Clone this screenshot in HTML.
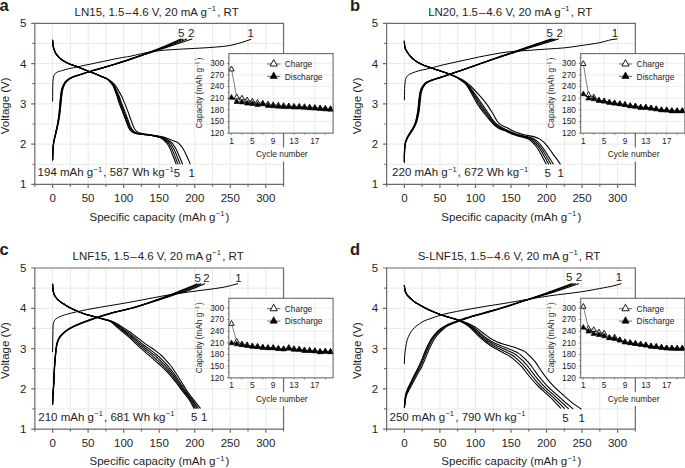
<!DOCTYPE html>
<html><head><meta charset="utf-8"><style>
html,body{margin:0;padding:0;background:#fff;overflow:hidden}
svg{display:block}
text{font-family:"Liberation Sans", sans-serif;fill:#1e1e1e}
</style></head><body>
<svg width="685" height="468" viewBox="0 0 685 468">
<rect width="685" height="468" fill="#fff"/>
<g transform="translate(0,0)"><path d="M52.6,23.3V184.4M70.37,23.3V184.4M88.13,23.3V184.4M105.9,23.3V184.4M123.66,23.3V184.4M141.43,23.3V184.4M159.19,23.3V184.4M176.96,23.3V184.4M194.72,23.3V184.4M212.48,23.3V184.4M230.25,23.3V184.4M248.01,23.3V184.4M265.78,23.3V184.4M34.84,164.26H283.55M34.84,144.12H283.55M34.84,123.99H283.55M34.84,103.85H283.55M34.84,83.71H283.55M34.84,63.58H283.55M34.84,43.44H283.55" stroke="#e9e9e9" stroke-width="1" fill="none"/>
<path d="M52.6,101.03C52.64,97.94 52.66,94.75 52.71,91.77C52.75,88.99 52.75,86.06 52.85,83.71C52.92,81.9 52.96,80.32 53.17,78.88C53.34,77.69 53.48,76.62 53.88,75.66C54.26,74.76 54.74,73.9 55.44,73.24C56.19,72.54 57.29,72.03 58.28,71.63C59.28,71.23 60.23,71.15 61.41,70.82C62.97,70.39 64.77,69.74 66.81,69.21C69.44,68.53 72.25,67.99 75.91,67.2C81.44,66 89.65,64.27 96.8,62.77C104.32,61.19 113.83,59.07 119.96,57.94C123.98,57.19 126.55,56.99 129.98,56.33C133.68,55.61 137.81,54.48 141.43,53.71C144.66,53.02 147.5,52.42 150.66,51.9C153.96,51.34 156.97,50.89 160.82,50.49C165.86,49.96 172.17,49.66 178.31,49.28C185.12,48.86 193.23,48.51 199.91,48.11C205.68,47.77 210.84,47.53 216.04,47.06C220.93,46.63 225.74,46.3 230.25,45.45C234.47,44.65 238.69,43.33 242.33,42.23C245.4,41.31 247.92,40.35 250.72,39.41" stroke="#000" stroke-width="1.0" fill="none" stroke-linejoin="round" stroke-linecap="round"/>
<path d="M52.6,159.83C52.72,156.61 52.75,153.11 52.96,150.17C53.13,147.68 53.33,145.39 53.67,143.32C53.95,141.56 54.33,140.21 54.73,138.49C55.19,136.49 55.76,134.31 56.3,132.04C56.89,129.51 57.58,126.74 58.14,123.99C58.73,121.11 59.25,118.27 59.71,115.13C60.22,111.6 60.62,107.29 60.99,103.85C61.29,100.94 61.46,98.28 61.77,95.8C62.04,93.63 62.27,91.55 62.69,89.75C63.04,88.26 63.4,87 63.97,85.73C64.54,84.45 65.28,83.14 66.1,82.1C66.84,81.16 67.67,80.41 68.59,79.69C69.55,78.93 70.4,78.34 71.79,77.67C74.02,76.59 77.85,75.5 81.02,74.45C84.36,73.35 88.3,72.13 91.33,71.23C93.71,70.52 95.04,70.19 97.72,69.41C102.29,68.1 110.38,65.78 116.2,63.98C121.45,62.36 126.28,60.76 131.12,59.14C135.74,57.6 140.35,55.95 144.62,54.51C148.48,53.22 151.99,52.07 155.64,50.89C159.22,49.72 162.64,48.66 166.3,47.47C170.2,46.19 174.24,44.81 178.38,43.44C182.75,41.99 187.38,40.48 191.88,39.01" stroke="#000" stroke-width="1.15" fill="none" stroke-linejoin="round" stroke-linecap="round"/>
<path d="M52.6,159.8L52.6,159.0L52.7,158.1L52.7,157.2L52.7,156.3L52.7,155.5L52.7,154.6L52.8,153.7L52.8,152.9L52.8,152.0L52.9,151.1L52.9,150.2L53.0,149.4L53.0,148.5L53.1,147.6L53.2,146.8L53.3,145.9L53.3,145.0L53.5,144.2L53.6,143.3L53.7,142.4L53.9,141.6L54.1,140.7L54.3,139.9L54.4,139.0L54.6,138.2L54.8,137.3L55.0,136.5L55.2,135.6L55.4,134.8L55.6,133.9L55.8,133.1L56.0,132.2L56.2,131.4L56.4,130.5L56.6,129.7L56.8,128.8L57.0,128.0L57.2,127.1L57.4,126.3L57.6,125.4L57.7,124.6L57.9,123.7L58.1,122.9L58.2,122.0L58.4,121.2L58.5,120.3L58.7,119.4L58.8,118.6L58.9,117.7L59.1,116.9L59.2,116.0L59.3,115.1L59.4,114.3L59.5,113.4L59.6,112.5L59.7,111.7L59.8,110.8L59.9,109.9L60.0,109.1L60.1,108.2L60.1,107.3L60.2,106.5L60.3,105.6L60.4,104.7L60.5,103.9L60.5,103.0L60.6,102.1L60.7,101.3L60.8,100.4L60.9,99.5L60.9,98.7L61.0,97.8L61.1,96.9L61.2,96.1L61.3,95.2L61.4,94.3L61.5,93.5L61.7,92.6L61.8,91.7L62.0,90.9L62.1,90.0L62.3,89.2L62.6,88.3L62.8,87.5L63.1,86.7L63.5,85.9L63.8,85.1L64.3,84.3L64.7,83.6L65.2,82.9L65.7,82.2L66.3,81.5L66.9,80.9L67.5,80.3L68.2,79.8L68.8,79.2L69.6,78.8L70.3,78.3L71.1,77.9L71.9,77.5L72.7,77.2L73.5,76.8L74.3,76.5L75.1,76.3L75.9,76.0L76.8,75.7L77.6,75.4L78.4,75.2L79.2,74.9L80.1,74.6L80.9,74.4L81.7,74.1L82.6,73.8L83.4,73.6L84.2,73.3L85.1,73.0L85.9,72.8L86.7,72.5L87.5,72.3L88.4,72.0L89.2,71.7L90.1,71.5L90.9,71.3L91.7,71.0L92.6,70.8L93.4,70.5L94.2,70.3L95.1,70.0L95.9,69.8L96.7,69.6L97.6,69.3L98.4,69.1L99.3,68.8L100.1,68.6L100.9,68.3L101.8,68.1L102.6,67.9L103.4,67.6L104.3,67.4L105.1,67.1L106.0,66.9L106.8,66.6L107.6,66.4L108.5,66.1L109.3,65.9L110.1,65.7L111.0,65.4L111.8,65.2L112.6,64.9L113.5,64.6L114.3,64.4L115.1,64.1L116.0,63.9L116.8,63.6L117.6,63.4L118.5,63.1L119.3,62.8L120.1,62.6L121.0,62.3L121.8,62.0L122.6,61.8L123.5,61.5L124.3,61.2L125.1,61.0L125.9,60.7L126.8,60.4L127.6,60.1L128.4,59.9L129.3,59.6L130.1,59.3L130.9,59.0L131.7,58.8L132.6,58.5L133.4,58.2L134.2,57.9L135.0,57.6L135.9,57.3L136.7,57.1L137.5,56.8L138.3,56.5L139.2,56.2L140.0,55.9L140.8,55.7L141.6,55.4L142.5,55.1L143.3,54.8L144.1,54.5L144.9,54.2L145.8,54.0L146.6,53.7L147.4,53.4L148.2,53.1L149.1,52.8L149.9,52.6L150.7,52.3L151.5,52.0L152.3,51.7L153.2,51.4L154.0,51.1L154.8,50.9L155.6,50.6L156.5,50.3L157.3,50.0L158.1,49.7L158.9,49.4L159.8,49.1L160.6,48.8L161.4,48.5L162.2,48.3L163.0,48.0L163.9,47.7L164.7,47.4L165.5,47.1L166.3,46.7L167.1,46.4L167.9,46.1L168.8,45.8L169.6,45.5L170.4,45.2L171.2,44.9L172.0,44.6L172.8,44.3L173.7,44.0L174.5,43.7L175.3,43.4L176.1,43.1L176.9,42.8L177.7,42.5L178.6,42.2L179.4,41.9L180.2,41.6L181.0,41.3L181.8,41.0L182.6,40.6L183.4,40.3L184.2,40.0L185.0,39.7L185.8,39.3L186.6,39.0" stroke="#000" stroke-width="1.15" fill="none" stroke-linejoin="round" stroke-linecap="round"/>
<path d="M52.6,159.8L52.6,159.0L52.6,158.1L52.7,157.3L52.7,156.4L52.7,155.5L52.7,154.7L52.8,153.8L52.8,153.0L52.8,152.1L52.8,151.2L52.9,150.4L52.9,149.5L53.0,148.7L53.1,147.8L53.1,147.0L53.2,146.1L53.3,145.3L53.4,144.4L53.5,143.6L53.6,142.7L53.7,141.9L53.9,141.0L54.1,140.2L54.3,139.3L54.5,138.5L54.6,137.7L54.8,136.8L55.0,136.0L55.2,135.1L55.4,134.3L55.6,133.5L55.8,132.6L56.0,131.8L56.2,131.0L56.3,130.1L56.5,129.3L56.7,128.4L56.9,127.6L57.1,126.8L57.3,125.9L57.4,125.1L57.6,124.2L57.8,123.4L57.9,122.6L58.1,121.7L58.2,120.9L58.3,120.0L58.5,119.2L58.6,118.3L58.7,117.5L58.9,116.6L59.0,115.8L59.1,114.9L59.2,114.1L59.3,113.2L59.4,112.4L59.4,111.5L59.5,110.6L59.6,109.8L59.7,108.9L59.7,108.1L59.8,107.2L59.9,106.4L60.0,105.5L60.0,104.7L60.1,103.8L60.2,102.9L60.3,102.1L60.3,101.2L60.4,100.4L60.5,99.5L60.6,98.7L60.7,97.8L60.7,97.0L60.8,96.1L60.9,95.3L61.1,94.4L61.2,93.6L61.3,92.7L61.4,91.9L61.6,91.0L61.7,90.2L61.9,89.3L62.2,88.5L62.4,87.7L62.7,86.9L63.0,86.1L63.4,85.3L63.8,84.6L64.2,83.8L64.7,83.1L65.2,82.4L65.7,81.7L66.3,81.1L66.9,80.5L67.5,79.9L68.2,79.4L68.9,78.9L69.6,78.5L70.4,78.1L71.1,77.7L71.9,77.3L72.7,77.0L73.5,76.7L74.3,76.4L75.1,76.1L76.0,75.9L76.8,75.6L77.6,75.3L78.4,75.1L79.2,74.8L80.0,74.5L80.9,74.3L81.7,74.0L82.5,73.8L83.3,73.5L84.1,73.2L85.0,73.0L85.8,72.7L86.6,72.5L87.4,72.2L88.2,72.0L89.1,71.7L89.9,71.5L90.7,71.2L91.5,71.0L92.3,70.7L93.2,70.5L94.0,70.2L94.8,70.0L95.6,69.8L96.5,69.5L97.3,69.3L98.1,69.1L98.9,68.8L99.8,68.6L100.6,68.3L101.4,68.1L102.2,67.9L103.1,67.6L103.9,67.4L104.7,67.1L105.5,66.9L106.4,66.7L107.2,66.4L108.0,66.2L108.8,65.9L109.7,65.7L110.5,65.5L111.3,65.2L112.1,65.0L112.9,64.7L113.8,64.5L114.6,64.2L115.4,64.0L116.2,63.7L117.1,63.4L117.9,63.2L118.7,62.9L119.5,62.7L120.3,62.4L121.1,62.1L122.0,61.9L122.8,61.6L123.6,61.3L124.4,61.1L125.2,60.8L126.0,60.5L126.9,60.3L127.7,60.0L128.5,59.7L129.3,59.5L130.1,59.2L130.9,58.9L131.7,58.6L132.5,58.4L133.4,58.1L134.2,57.8L135.0,57.5L135.8,57.2L136.6,57.0L137.4,56.7L138.2,56.4L139.0,56.1L139.9,55.9L140.7,55.6L141.5,55.3L142.3,55.0L143.1,54.7L143.9,54.4L144.7,54.2L145.5,53.9L146.3,53.6L147.2,53.3L148.0,53.0L148.8,52.7L149.6,52.4L150.4,52.1L151.2,51.8L152.0,51.6L152.8,51.3L153.6,51.0L154.4,50.7L155.2,50.4L156.0,50.1L156.8,49.8L157.6,49.5L158.4,49.2L159.2,48.9L160.0,48.5L160.8,48.2L161.6,47.9L162.4,47.6L163.2,47.3L164.0,47.0L164.8,46.6L165.6,46.3L166.4,46.0L167.2,45.7L168.0,45.4L168.8,45.0L169.6,44.7L170.4,44.4L171.2,44.1L172.0,43.8L172.8,43.5L173.6,43.1L174.4,42.8L175.2,42.5L176.0,42.2L176.8,41.8L177.6,41.5L178.3,41.2L179.1,40.8L179.9,40.4L180.7,40.1L181.5,39.7L182.2,39.4L183.0,39.0" stroke="#000" stroke-width="1.15" fill="none" stroke-linejoin="round" stroke-linecap="round"/>
<path d="M52.6,159.83C52.69,156.61 52.72,153.11 52.88,150.17C53.02,147.69 53.17,145.4 53.45,143.32C53.69,141.56 54.02,140.21 54.38,138.49C54.79,136.49 55.31,134.31 55.8,132.04C56.35,129.51 57,126.74 57.5,123.99C58.03,121.11 58.48,118.26 58.85,115.13C59.28,111.6 59.53,107.29 59.85,103.85C60.12,100.94 60.32,98.28 60.63,95.8C60.9,93.63 61.12,91.55 61.55,89.75C61.92,88.26 62.32,87 62.9,85.73C63.48,84.45 64.22,83.14 65.04,82.1C65.78,81.16 66.59,80.41 67.52,79.69C68.5,78.92 69.37,78.34 70.79,77.67C73.07,76.59 76.97,75.5 80.17,74.45C83.5,73.35 87.41,72.13 90.4,71.23C92.74,70.52 94.02,70.18 96.66,69.41C101.19,68.09 109.32,65.78 115.13,63.98C120.37,62.36 125.17,60.76 129.98,59.14C134.56,57.61 138.99,56.09 143.34,54.51C147.54,53 151.7,51.44 155.64,49.88C159.33,48.42 162.94,46.86 166.3,45.45C169.3,44.19 172.28,42.99 174.82,41.83C176.93,40.86 178.61,39.95 180.51,39.01" stroke="#000" stroke-width="1.15" fill="none" stroke-linejoin="round" stroke-linecap="round"/>
<path d="M52.6,40.22C52.67,41.42 52.68,42.71 52.81,43.84C52.93,44.84 53.08,45.67 53.31,46.66C53.58,47.8 53.91,49.1 54.38,50.28C54.85,51.51 55.43,52.78 56.15,53.91C56.89,55.06 57.86,56.17 58.78,57.13C59.64,58.03 60.52,58.81 61.48,59.55C62.46,60.29 63.42,60.9 64.61,61.56C66.07,62.38 67.95,63.27 69.65,63.98C71.34,64.68 72.9,65.09 74.77,65.79C77.08,66.65 79.95,67.82 82.45,68.81C84.83,69.76 87.2,70.79 89.41,71.63C91.37,72.38 93.04,72.85 95.02,73.64C97.32,74.56 100.17,76.01 102.34,76.87C104.04,77.54 105.54,77.73 106.96,78.48C108.38,79.21 109.69,80.37 110.87,81.3C111.91,82.11 112.9,82.91 113.71,83.71C114.4,84.39 114.85,84.86 115.49,85.73C116.45,87.03 117.68,89.24 118.69,90.96C119.64,92.6 120.51,94.02 121.39,95.8C122.41,97.86 123.36,100.23 124.37,102.64C125.49,105.3 126.68,108.21 127.78,111.1C128.93,114.11 130,117.39 131.12,120.36C132.18,123.15 133.09,126.41 134.32,128.42C135.19,129.83 136.13,130.85 137.16,131.64C138.05,132.32 138.98,132.69 140,133.05C141.1,133.44 142.07,133.58 143.56,133.85C146.04,134.31 150.32,134.75 153.58,135.26C156.7,135.76 160.17,136.24 162.74,136.88C164.67,137.35 166.2,137.91 167.72,138.49C169.05,138.99 170.2,139.62 171.41,140.1C172.56,140.55 173.7,140.84 174.82,141.31C175.97,141.78 177.27,142.21 178.23,142.92C179.14,143.58 179.79,144.52 180.51,145.33C181.21,146.13 181.77,146.65 182.5,147.75C183.76,149.67 185.52,153.44 186.83,156.21C188.06,158.8 189.06,161.31 190.17,163.86" stroke="#000" stroke-width="1.1" fill="none" stroke-linejoin="round" stroke-linecap="round"/>
<path d="M52.6,40.2L52.6,41.0L52.7,41.9L52.7,42.7L52.8,43.5L52.9,44.3L53.0,45.1L53.1,45.9L53.3,46.7L53.5,47.5L53.7,48.3L54.0,49.1L54.2,49.9L54.5,50.6L54.8,51.4L55.2,52.1L55.5,52.9L55.9,53.6L56.4,54.3L56.9,54.9L57.4,55.6L57.9,56.2L58.5,56.8L59.0,57.4L59.6,58.0L60.2,58.5L60.8,59.0L61.5,59.5L62.2,60.0L62.8,60.5L63.5,60.9L64.2,61.3L64.9,61.7L65.7,62.1L66.4,62.5L67.1,62.8L67.9,63.2L68.6,63.5L69.4,63.9L70.1,64.2L70.9,64.4L71.7,64.7L72.5,65.0L73.2,65.3L74.0,65.5L74.8,65.8L75.5,66.1L76.3,66.4L77.1,66.7L77.8,67.0L78.6,67.3L79.4,67.6L80.1,67.9L80.9,68.2L81.6,68.5L82.4,68.8L83.2,69.1L83.9,69.4L84.7,69.7L85.4,70.0L86.2,70.3L86.9,70.6L87.7,71.0L88.5,71.3L89.2,71.5L90.0,71.8L90.8,72.1L91.5,72.4L92.3,72.7L93.1,72.9L93.9,73.2L94.6,73.5L95.4,73.8L96.1,74.1L96.9,74.5L97.6,74.8L98.4,75.1L99.1,75.4L99.9,75.8L100.6,76.1L101.4,76.4L102.2,76.7L102.9,77.0L103.7,77.3L104.4,77.6L105.2,77.9L105.9,78.3L106.7,78.6L107.4,79.0L108.1,79.5L108.7,80.0L109.3,80.5L110.0,81.0L110.5,81.6L111.1,82.2L111.7,82.7L112.3,83.3L112.8,84.0L113.3,84.6L113.8,85.2L114.3,85.9L114.7,86.6L115.1,87.3L115.5,88.1L115.8,88.8L116.2,89.6L116.5,90.3L116.9,91.0L117.2,91.8L117.5,92.5L117.9,93.2L118.2,94.0L118.5,94.7L118.9,95.5L119.2,96.3L119.5,97.0L119.7,97.8L120.0,98.6L120.3,99.3L120.5,100.1L120.8,100.9L121.1,101.7L121.4,102.4L121.6,103.2L121.9,104.0L122.2,104.7L122.5,105.5L122.8,106.2L123.1,107.0L123.4,107.8L123.7,108.5L124.0,109.3L124.3,110.1L124.6,110.8L124.9,111.6L125.2,112.4L125.5,113.1L125.8,113.9L126.0,114.7L126.3,115.4L126.6,116.2L126.9,117.0L127.2,117.7L127.5,118.5L127.8,119.3L128.1,120.0L128.3,120.8L128.6,121.6L128.9,122.3L129.2,123.1L129.5,123.9L129.7,124.6L130.0,125.4L130.4,126.2L130.7,126.9L131.1,127.6L131.5,128.3L131.9,129.0L132.4,129.7L132.9,130.3L133.5,130.9L134.1,131.4L134.7,131.8L135.4,132.3L136.1,132.6L136.9,132.9L137.7,133.2L138.5,133.4L139.3,133.6L140.1,133.8L140.9,133.9L141.7,134.0L142.5,134.2L143.3,134.3L144.1,134.4L144.9,134.5L145.7,134.6L146.5,134.7L147.4,134.8L148.2,134.9L149.0,135.0L149.8,135.1L150.6,135.2L151.4,135.3L152.2,135.4L153.0,135.5L153.9,135.6L154.7,135.8L155.5,135.9L156.3,136.1L157.1,136.2L157.9,136.4L158.7,136.6L159.5,136.8L160.3,137.0L161.0,137.2L161.8,137.5L162.6,137.7L163.4,138.0L164.1,138.3L164.9,138.6L165.6,138.9L166.4,139.3L167.1,139.7L167.8,140.1L168.5,140.5L169.1,141.0L169.8,141.4L170.5,141.8L171.2,142.3L171.8,142.8L172.4,143.4L172.9,144.0L173.3,144.7L173.8,145.4L174.3,146.0L174.7,146.7L175.2,147.4L175.6,148.1L175.9,148.8L176.3,149.6L176.7,150.3L177.0,151.0L177.4,151.8L177.7,152.5L178.0,153.3L178.4,154.0L178.7,154.8L179.0,155.5L179.3,156.3L179.6,157.0L180.0,157.8L180.3,158.5L180.6,159.3L180.9,160.1L181.2,160.8L181.5,161.6L181.8,162.3L182.1,163.1L182.4,163.9" stroke="#000" stroke-width="1.1" fill="none" stroke-linejoin="round" stroke-linecap="round"/>
<path d="M52.6,40.2L52.6,41.0L52.7,41.8L52.7,42.6L52.8,43.5L52.9,44.3L53.0,45.1L53.1,45.9L53.3,46.7L53.5,47.5L53.7,48.2L53.9,49.0L54.2,49.8L54.5,50.5L54.8,51.3L55.1,52.0L55.5,52.8L55.9,53.5L56.3,54.2L56.8,54.8L57.3,55.5L57.8,56.1L58.4,56.7L58.9,57.3L59.5,57.8L60.1,58.4L60.7,58.9L61.3,59.4L62.0,59.9L62.7,60.4L63.3,60.8L64.0,61.2L64.8,61.6L65.5,62.0L66.2,62.4L66.9,62.7L67.7,63.1L68.4,63.4L69.1,63.8L69.9,64.1L70.6,64.4L71.4,64.6L72.2,64.9L72.9,65.2L73.7,65.4L74.5,65.7L75.2,66.0L76.0,66.3L76.8,66.6L77.5,66.8L78.3,67.1L79.0,67.4L79.8,67.7L80.5,68.0L81.3,68.3L82.0,68.7L82.8,69.0L83.6,69.3L84.3,69.6L85.1,69.9L85.8,70.2L86.6,70.5L87.3,70.8L88.1,71.1L88.8,71.4L89.6,71.7L90.3,72.0L91.1,72.2L91.9,72.5L92.6,72.8L93.4,73.1L94.2,73.3L94.9,73.6L95.7,73.9L96.4,74.2L97.2,74.6L97.9,74.9L98.7,75.2L99.4,75.6L100.1,75.9L100.9,76.2L101.6,76.5L102.4,76.8L103.1,77.1L103.9,77.4L104.6,77.7L105.4,78.0L106.1,78.4L106.8,78.8L107.5,79.2L108.2,79.7L108.8,80.2L109.4,80.7L110.0,81.3L110.5,81.9L111.1,82.5L111.7,83.1L112.2,83.7L112.7,84.3L113.2,85.0L113.7,85.6L114.1,86.3L114.5,87.0L114.8,87.8L115.1,88.5L115.5,89.3L115.8,90.0L116.1,90.7L116.4,91.5L116.8,92.2L117.1,93.0L117.4,93.7L117.7,94.5L118.0,95.2L118.3,96.0L118.6,96.7L118.8,97.5L119.1,98.3L119.3,99.1L119.6,99.8L119.8,100.6L120.1,101.4L120.3,102.1L120.6,102.9L120.9,103.7L121.2,104.4L121.5,105.2L121.8,105.9L122.1,106.7L122.4,107.5L122.7,108.2L122.9,109.0L123.2,109.7L123.5,110.5L123.8,111.2L124.1,112.0L124.4,112.8L124.7,113.5L125.0,114.3L125.3,115.0L125.5,115.8L125.8,116.6L126.1,117.3L126.4,118.1L126.7,118.8L127.0,119.6L127.3,120.4L127.6,121.1L127.8,121.9L128.1,122.6L128.4,123.4L128.7,124.2L129.0,124.9L129.3,125.7L129.6,126.4L129.9,127.2L130.3,127.9L130.7,128.6L131.1,129.3L131.6,129.9L132.1,130.5L132.7,131.0L133.3,131.6L134.0,132.0L134.7,132.4L135.4,132.8L136.2,133.0L136.9,133.3L137.7,133.5L138.5,133.7L139.3,133.8L140.1,134.0L140.9,134.1L141.7,134.2L142.5,134.3L143.3,134.4L144.1,134.5L144.9,134.6L145.8,134.7L146.6,134.7L147.4,134.8L148.2,134.9L149.0,135.0L149.8,135.1L150.6,135.2L151.4,135.3L152.2,135.5L153.0,135.6L153.8,135.7L154.6,135.9L155.4,136.1L156.2,136.2L157.0,136.4L157.8,136.6L158.6,136.8L159.3,137.0L160.1,137.2L160.9,137.4L161.7,137.7L162.4,138.0L163.2,138.3L163.9,138.6L164.6,139.0L165.3,139.4L166.0,139.9L166.6,140.3L167.3,140.8L167.9,141.3L168.6,141.8L169.2,142.3L169.8,142.8L170.4,143.4L170.9,144.0L171.3,144.7L171.7,145.4L172.2,146.1L172.6,146.8L173.0,147.5L173.4,148.2L173.8,148.9L174.1,149.6L174.5,150.4L174.8,151.1L175.1,151.8L175.4,152.6L175.8,153.3L176.1,154.1L176.4,154.8L176.7,155.6L177.0,156.3L177.3,157.1L177.6,157.8L177.9,158.6L178.2,159.3L178.5,160.1L178.8,160.8L179.1,161.6L179.4,162.4L179.7,163.1L180.0,163.9" stroke="#000" stroke-width="1.1" fill="none" stroke-linejoin="round" stroke-linecap="round"/>
<path d="M52.6,40.2L52.6,41.0L52.7,41.8L52.7,42.6L52.8,43.4L52.9,44.2L53.0,45.0L53.1,45.8L53.3,46.6L53.5,47.4L53.7,48.2L53.9,49.0L54.2,49.7L54.5,50.5L54.8,51.2L55.1,52.0L55.4,52.7L55.8,53.4L56.3,54.1L56.7,54.7L57.2,55.4L57.7,56.0L58.3,56.6L58.8,57.2L59.4,57.7L60.0,58.3L60.6,58.8L61.2,59.3L61.9,59.8L62.5,60.3L63.2,60.7L63.9,61.1L64.6,61.5L65.3,61.9L66.0,62.3L66.7,62.7L67.5,63.0L68.2,63.3L68.9,63.7L69.7,64.0L70.4,64.3L71.2,64.6L71.9,64.8L72.7,65.1L73.5,65.3L74.2,65.6L75.0,65.9L75.7,66.2L76.5,66.4L77.2,66.7L78.0,67.0L78.7,67.3L79.5,67.6L80.2,67.9L81.0,68.2L81.7,68.5L82.5,68.8L83.2,69.1L84.0,69.4L84.7,69.7L85.5,70.0L86.2,70.4L87.0,70.7L87.7,71.0L88.5,71.3L89.2,71.5L90.0,71.8L90.7,72.1L91.5,72.4L92.2,72.6L93.0,72.9L93.8,73.2L94.5,73.5L95.3,73.8L96.0,74.1L96.8,74.4L97.5,74.7L98.2,75.0L99.0,75.4L99.7,75.7L100.4,76.0L101.2,76.3L101.9,76.6L102.7,77.0L103.4,77.3L104.2,77.6L104.9,77.9L105.6,78.2L106.4,78.5L107.1,78.9L107.7,79.4L108.3,79.9L108.9,80.5L109.5,81.1L110.0,81.6L110.6,82.2L111.1,82.8L111.7,83.4L112.2,84.1L112.7,84.7L113.1,85.4L113.5,86.1L113.9,86.8L114.2,87.5L114.5,88.2L114.8,89.0L115.1,89.7L115.4,90.5L115.7,91.2L116.0,92.0L116.4,92.7L116.6,93.5L116.9,94.2L117.2,95.0L117.5,95.7L117.8,96.5L118.0,97.3L118.2,98.0L118.5,98.8L118.7,99.6L118.9,100.3L119.2,101.1L119.4,101.9L119.7,102.6L120.0,103.4L120.2,104.2L120.5,104.9L120.8,105.7L121.1,106.4L121.4,107.2L121.7,107.9L122.0,108.7L122.3,109.4L122.6,110.2L122.9,110.9L123.2,111.7L123.5,112.4L123.7,113.2L124.0,113.9L124.3,114.7L124.6,115.4L124.9,116.2L125.2,117.0L125.5,117.7L125.7,118.5L126.0,119.2L126.3,120.0L126.6,120.7L126.9,121.5L127.2,122.2L127.4,123.0L127.7,123.7L128.0,124.5L128.3,125.3L128.6,126.0L128.9,126.7L129.2,127.5L129.6,128.2L130.0,128.9L130.5,129.5L131.0,130.2L131.5,130.7L132.1,131.3L132.7,131.8L133.4,132.2L134.1,132.6L134.8,132.9L135.6,133.2L136.4,133.4L137.1,133.6L137.9,133.8L138.7,133.9L139.5,134.0L140.3,134.1L141.1,134.2L141.9,134.3L142.7,134.4L143.5,134.5L144.3,134.6L145.1,134.6L145.9,134.7L146.7,134.8L147.5,134.9L148.3,135.0L149.1,135.1L149.9,135.2L150.7,135.3L151.5,135.5L152.3,135.6L153.1,135.7L153.9,135.9L154.7,136.1L155.5,136.2L156.3,136.4L157.1,136.6L157.8,136.8L158.6,137.0L159.4,137.2L160.2,137.4L160.9,137.7L161.7,138.0L162.4,138.3L163.1,138.7L163.8,139.2L164.4,139.7L165.0,140.2L165.6,140.7L166.3,141.2L166.9,141.7L167.5,142.2L168.1,142.8L168.6,143.4L169.1,144.0L169.5,144.7L169.9,145.4L170.3,146.1L170.7,146.8L171.1,147.5L171.5,148.2L171.8,148.9L172.2,149.7L172.5,150.4L172.8,151.1L173.1,151.9L173.5,152.6L173.8,153.4L174.1,154.1L174.4,154.9L174.7,155.6L175.0,156.4L175.3,157.1L175.6,157.9L175.9,158.6L176.2,159.4L176.5,160.1L176.8,160.9L177.0,161.6L177.3,162.4L177.6,163.1L177.9,163.9" stroke="#000" stroke-width="1.1" fill="none" stroke-linejoin="round" stroke-linecap="round"/>
<path d="M52.6,40.22C52.67,41.42 52.68,42.71 52.81,43.84C52.93,44.84 53.08,45.67 53.31,46.66C53.58,47.8 53.91,49.1 54.38,50.28C54.85,51.51 55.43,52.78 56.15,53.91C56.89,55.06 57.86,56.17 58.78,57.13C59.64,58.03 60.52,58.81 61.48,59.55C62.46,60.29 63.42,60.9 64.61,61.56C66.07,62.38 67.95,63.27 69.65,63.98C71.34,64.68 72.9,65.09 74.77,65.79C77.08,66.65 79.95,67.82 82.45,68.81C84.83,69.76 87.2,70.79 89.41,71.63C91.37,72.38 93.04,72.85 95.02,73.64C97.32,74.56 100.18,75.92 102.34,76.87C104.06,77.62 105.72,78.04 106.96,78.88C107.99,79.57 108.67,80.48 109.45,81.3C110.2,82.09 110.96,82.93 111.58,83.71C112.12,84.4 112.53,84.86 113,85.73C113.72,87.03 114.47,89.25 115.13,90.96C115.77,92.6 116.32,94.03 116.91,95.8C117.6,97.87 118.15,100.26 118.97,102.64C119.89,105.33 121.13,108.22 122.24,111.1C123.4,114.12 124.61,117.35 125.79,120.36C126.93,123.25 127.89,126.75 129.2,128.82C130.11,130.26 131.05,131.26 132.19,132.04C133.25,132.77 134.54,133.12 135.74,133.45C136.91,133.78 137.83,133.85 139.29,134.06C141.65,134.38 145.83,134.68 148.53,135.06C150.66,135.37 152.55,135.73 154.22,136.07C155.54,136.34 156.61,136.54 157.77,136.88C158.91,137.21 160.06,137.5 161.11,138.08C162.2,138.69 163.18,139.63 164.16,140.5C165.17,141.4 166.23,142.3 167.08,143.4C167.97,144.56 168.64,145.97 169.35,147.35C170.09,148.79 170.72,150.27 171.41,151.9C172.19,153.73 172.98,155.83 173.76,157.82C174.54,159.82 175.32,161.85 176.1,163.86" stroke="#000" stroke-width="1.1" fill="none" stroke-linejoin="round" stroke-linecap="round"/>
<path d="M34.84,23.3H283.55V184.4H34.84Z" stroke="#6b6b6b" stroke-width="1.2" fill="none"/>
<path d="M31.23,184.4H34.84M32.44,164.26H34.84M31.23,144.12H34.84M32.44,123.99H34.84M31.23,103.85H34.84M32.44,83.71H34.84M31.23,63.58H34.84M32.44,43.44H34.84M31.23,23.3H34.84M34.84,184.4V186.8M52.6,184.4V188M70.37,184.4V186.8M88.13,184.4V188M105.9,184.4V186.8M123.66,184.4V188M141.43,184.4V186.8M159.19,184.4V188M176.96,184.4V186.8M194.72,184.4V188M212.48,184.4V186.8M230.25,184.4V188M248.01,184.4V186.8M265.78,184.4V188M283.55,184.4V186.8" stroke="#6b6b6b" stroke-width="1.2" fill="none"/>
<text x="26.4" y="188.4" font-size="11.5" text-anchor="end">1</text>
<text x="26.4" y="148.12" font-size="11.5" text-anchor="end">2</text>
<text x="26.4" y="107.85" font-size="11.5" text-anchor="end">3</text>
<text x="26.4" y="67.58" font-size="11.5" text-anchor="end">4</text>
<text x="26.4" y="27.3" font-size="11.5" text-anchor="end">5</text>
<text x="52.6" y="201.9" font-size="11.5" text-anchor="middle">0</text>
<text x="88.13" y="201.9" font-size="11.5" text-anchor="middle">50</text>
<text x="123.66" y="201.9" font-size="11.5" text-anchor="middle">100</text>
<text x="159.19" y="201.9" font-size="11.5" text-anchor="middle">150</text>
<text x="194.72" y="201.9" font-size="11.5" text-anchor="middle">200</text>
<text x="230.25" y="201.9" font-size="11.5" text-anchor="middle">250</text>
<text x="265.78" y="201.9" font-size="11.5" text-anchor="middle">300</text>
<text x="159.5" y="220.7" font-size="11.5" text-anchor="middle"><tspan>Specific capacity (mAh g</tspan><tspan dy="-4.49" dx="0.3" font-size="7.59">−1</tspan><tspan dy="4.49" dx="1.2">)</tspan></text>
<text transform="translate(9.2,105.85) rotate(-90)" font-size="11.5" text-anchor="middle">Voltage (V)</text>
<text x="156.6" y="15.8" font-size="11.5" text-anchor="middle"><tspan>LN15, 1.5</tspan><tspan dx="0.9">–</tspan><tspan dx="0.9">4.6 V, 20 mA g</tspan><tspan dy="-4.49" dx="0.3" font-size="7.59">−1</tspan><tspan dy="4.49" dx="1.2">, RT</tspan></text>
<text x="-0.6" y="11.3" font-size="16.5" font-weight="bold">a</text>
<text x="37.6" y="176.3" font-size="11.5" text-anchor="start"><tspan>194 mAh g</tspan><tspan dy="-4.49" dx="0.3" font-size="7.59">−1</tspan><tspan dy="4.49" dx="1.2">, 587 Wh kg</tspan><tspan dy="-4.49" dx="0.3" font-size="7.59">−1</tspan></text>
<text x="181.1" y="36.8" font-size="11.5" text-anchor="middle">5</text>
<text x="191.3" y="36.8" font-size="11.5" text-anchor="middle">2</text>
<text x="250.8" y="36.8" font-size="11.5" text-anchor="middle">1</text>
<text x="177" y="176.8" font-size="11.5" text-anchor="middle">5</text>
<text x="191.6" y="176.8" font-size="11.5" text-anchor="middle">1</text>
<rect x="228.9" y="53.6" width="104.2" height="79.55" fill="#fff"/>
<path d="M228.9,121.47H333.1M228.9,109.83H333.1M228.9,98.2H333.1M228.9,86.56H333.1M228.9,74.93H333.1M228.9,63.3H333.1M252.34,53.6V133.15M273.19,53.6V133.15M294.02,53.6V133.15M314.87,53.6V133.15" stroke="#e9e9e9" stroke-width="0.8" fill="none"/>
<polyline points="231.5,69.11 236.72,97.03 241.93,98.2 247.13,100.14 252.34,101.3 257.56,102.46 262.76,103.24 267.98,104.02 273.19,104.79 278.39,105.18 283.61,105.57 288.81,105.95 294.02,106.34 299.24,106.34 304.44,106.73 309.65,107.12 314.87,107.51 320.07,107.89 325.29,108.28 330.5,108.67" stroke="#000" stroke-width="0.5" fill="none"/>
<polyline points="231.5,97.42 236.72,101.69 241.93,102.08 247.13,103.24 252.34,103.63 257.56,104.79 262.76,104.02 267.98,105.57 273.19,105.95 278.39,106.34 283.61,106.73 288.81,106.73 294.02,107.12 299.24,107.12 304.44,107.51 309.65,107.89 314.87,108.28 320.07,108.67 325.29,109.06 330.5,109.44" stroke="#000" stroke-width="0.75" fill="none"/>
<polygon points="231.5,66.16 228.85,70.93 234.16,70.93" fill="#fff" stroke="#000" stroke-width="0.9" stroke-linejoin="miter"/>
<polygon points="236.72,94.08 234.06,98.85 239.37,98.85" fill="#fff" stroke="#000" stroke-width="0.9" stroke-linejoin="miter"/>
<polygon points="241.93,95.24 239.28,100.01 244.58,100.01" fill="#fff" stroke="#000" stroke-width="0.9" stroke-linejoin="miter"/>
<polygon points="247.13,97.18 244.48,101.95 249.78,101.95" fill="#fff" stroke="#000" stroke-width="0.9" stroke-linejoin="miter"/>
<polygon points="252.34,98.34 249.69,103.11 255,103.11" fill="#fff" stroke="#000" stroke-width="0.9" stroke-linejoin="miter"/>
<polygon points="257.56,99.51 254.91,104.28 260.2,104.28" fill="#fff" stroke="#000" stroke-width="0.9" stroke-linejoin="miter"/>
<polygon points="262.76,100.28 260.12,105.05 265.41,105.05" fill="#fff" stroke="#000" stroke-width="0.9" stroke-linejoin="miter"/>
<polygon points="267.98,101.06 265.33,105.83 270.62,105.83" fill="#fff" stroke="#000" stroke-width="0.9" stroke-linejoin="miter"/>
<polygon points="273.19,101.83 270.54,106.6 275.83,106.6" fill="#fff" stroke="#000" stroke-width="0.9" stroke-linejoin="miter"/>
<polygon points="278.39,102.22 275.75,106.99 281.04,106.99" fill="#fff" stroke="#000" stroke-width="0.9" stroke-linejoin="miter"/>
<polygon points="283.61,102.61 280.96,107.38 286.25,107.38" fill="#fff" stroke="#000" stroke-width="0.9" stroke-linejoin="miter"/>
<polygon points="288.81,103 286.17,107.77 291.46,107.77" fill="#fff" stroke="#000" stroke-width="0.9" stroke-linejoin="miter"/>
<polygon points="294.02,103.38 291.38,108.15 296.67,108.15" fill="#fff" stroke="#000" stroke-width="0.9" stroke-linejoin="miter"/>
<polygon points="299.24,103.38 296.59,108.15 301.88,108.15" fill="#fff" stroke="#000" stroke-width="0.9" stroke-linejoin="miter"/>
<polygon points="304.44,103.77 301.8,108.54 307.09,108.54" fill="#fff" stroke="#000" stroke-width="0.9" stroke-linejoin="miter"/>
<polygon points="309.65,104.16 307,108.93 312.3,108.93" fill="#fff" stroke="#000" stroke-width="0.9" stroke-linejoin="miter"/>
<polygon points="314.87,104.55 312.22,109.32 317.51,109.32" fill="#fff" stroke="#000" stroke-width="0.9" stroke-linejoin="miter"/>
<polygon points="320.07,104.94 317.43,109.71 322.72,109.71" fill="#fff" stroke="#000" stroke-width="0.9" stroke-linejoin="miter"/>
<polygon points="325.29,105.32 322.64,110.09 327.94,110.09" fill="#fff" stroke="#000" stroke-width="0.9" stroke-linejoin="miter"/>
<polygon points="330.5,105.71 327.85,110.48 333.14,110.48" fill="#fff" stroke="#000" stroke-width="0.9" stroke-linejoin="miter"/>
<polygon points="231.5,94.47 228.85,99.23 234.16,99.23" fill="#000" stroke="#000" stroke-width="0.6" stroke-linejoin="miter"/>
<polygon points="236.72,98.73 234.06,103.5 239.37,103.5" fill="#000" stroke="#000" stroke-width="0.6" stroke-linejoin="miter"/>
<polygon points="241.93,99.12 239.28,103.89 244.58,103.89" fill="#000" stroke="#000" stroke-width="0.6" stroke-linejoin="miter"/>
<polygon points="247.13,100.28 244.48,105.05 249.78,105.05" fill="#000" stroke="#000" stroke-width="0.6" stroke-linejoin="miter"/>
<polygon points="252.34,100.67 249.69,105.44 255,105.44" fill="#000" stroke="#000" stroke-width="0.6" stroke-linejoin="miter"/>
<polygon points="257.56,101.83 254.91,106.6 260.2,106.6" fill="#000" stroke="#000" stroke-width="0.6" stroke-linejoin="miter"/>
<polygon points="262.76,101.06 260.12,105.83 265.41,105.83" fill="#000" stroke="#000" stroke-width="0.6" stroke-linejoin="miter"/>
<polygon points="267.98,102.61 265.33,107.38 270.62,107.38" fill="#000" stroke="#000" stroke-width="0.6" stroke-linejoin="miter"/>
<polygon points="273.19,103 270.54,107.77 275.83,107.77" fill="#000" stroke="#000" stroke-width="0.6" stroke-linejoin="miter"/>
<polygon points="278.39,103.38 275.75,108.15 281.04,108.15" fill="#000" stroke="#000" stroke-width="0.6" stroke-linejoin="miter"/>
<polygon points="283.61,103.77 280.96,108.54 286.25,108.54" fill="#000" stroke="#000" stroke-width="0.6" stroke-linejoin="miter"/>
<polygon points="288.81,103.77 286.17,108.54 291.46,108.54" fill="#000" stroke="#000" stroke-width="0.6" stroke-linejoin="miter"/>
<polygon points="294.02,104.16 291.38,108.93 296.67,108.93" fill="#000" stroke="#000" stroke-width="0.6" stroke-linejoin="miter"/>
<polygon points="299.24,104.16 296.59,108.93 301.88,108.93" fill="#000" stroke="#000" stroke-width="0.6" stroke-linejoin="miter"/>
<polygon points="304.44,104.55 301.8,109.32 307.09,109.32" fill="#000" stroke="#000" stroke-width="0.6" stroke-linejoin="miter"/>
<polygon points="309.65,104.94 307,109.71 312.3,109.71" fill="#000" stroke="#000" stroke-width="0.6" stroke-linejoin="miter"/>
<polygon points="314.87,105.32 312.22,110.09 317.51,110.09" fill="#000" stroke="#000" stroke-width="0.6" stroke-linejoin="miter"/>
<polygon points="320.07,105.71 317.43,110.48 322.72,110.48" fill="#000" stroke="#000" stroke-width="0.6" stroke-linejoin="miter"/>
<polygon points="325.29,106.1 322.64,110.87 327.94,110.87" fill="#000" stroke="#000" stroke-width="0.6" stroke-linejoin="miter"/>
<polygon points="330.5,106.49 327.85,111.26 333.14,111.26" fill="#000" stroke="#000" stroke-width="0.6" stroke-linejoin="miter"/>
<rect x="228.9" y="53.6" width="104.2" height="79.55" fill="none" stroke="#6b6b6b" stroke-width="1.1"/>
<path d="M227.1,133.1H228.9M227.7,127.28H228.9M227.1,121.47H228.9M227.7,115.65H228.9M227.1,109.83H228.9M227.7,104.02H228.9M227.1,98.2H228.9M227.7,92.38H228.9M227.1,86.56H228.9M227.7,80.75H228.9M227.1,74.93H228.9M227.7,69.11H228.9M227.1,63.3H228.9M227.7,57.48H228.9M231.5,133.15V134.65M241.93,133.15V134.65M252.34,133.15V134.65M262.76,133.15V134.65M273.19,133.15V134.65M283.61,133.15V134.65M294.02,133.15V134.65M304.44,133.15V134.65M314.87,133.15V134.65M325.29,133.15V134.65" stroke="#6b6b6b" stroke-width="0.9" fill="none"/>
<text x="224.2" y="135.9" font-size="8.4" text-anchor="end">120</text>
<text x="224.2" y="124.27" font-size="8.4" text-anchor="end">150</text>
<text x="224.2" y="112.63" font-size="8.4" text-anchor="end">180</text>
<text x="224.2" y="101" font-size="8.4" text-anchor="end">210</text>
<text x="224.2" y="89.36" font-size="8.4" text-anchor="end">240</text>
<text x="224.2" y="77.73" font-size="8.4" text-anchor="end">270</text>
<text x="224.2" y="66.1" font-size="8.4" text-anchor="end">300</text>
<text x="231.5" y="143.8" font-size="8.4" text-anchor="middle">1</text>
<text x="252.34" y="143.8" font-size="8.4" text-anchor="middle">5</text>
<text x="273.19" y="143.8" font-size="8.4" text-anchor="middle">9</text>
<text x="294.02" y="143.8" font-size="8.4" text-anchor="middle">13</text>
<text x="314.87" y="143.8" font-size="8.4" text-anchor="middle">17</text>
<rect x="255" y="147.5" width="55" height="14" fill="#fff"/>
<text x="281.8" y="157.4" font-size="8.4" text-anchor="middle">Cycle number</text>
<text x="0" y="0" font-size="8.2" text-anchor="middle" transform="translate(202.1,93.1) rotate(-90)"><tspan>Capacity (mAh g</tspan><tspan dy="-3.2" dx="0.3" font-size="5.41">−1</tspan><tspan dy="3.2" dx="1.2">)</tspan></text>
<path d="M267.1,64H280.3M267.1,76.4H280.3" stroke="#000" stroke-width="0.6"/>
<polygon points="273.7,59.58 270.1,66.06 277.3,66.06" fill="#fff" stroke="#000" stroke-width="0.9" stroke-linejoin="miter"/>
<polygon points="273.7,71.98 270.1,78.46 277.3,78.46" fill="#000" stroke="#000" stroke-width="0.6" stroke-linejoin="miter"/>
<text x="284.8" y="67.4" font-size="8.4">Charge</text>
<text x="284.8" y="79.8" font-size="8.4">Discharge</text></g>
<g transform="translate(351.8,0)"><path d="M52.6,23.3V184.4M70.37,23.3V184.4M88.13,23.3V184.4M105.9,23.3V184.4M123.66,23.3V184.4M141.43,23.3V184.4M159.19,23.3V184.4M176.96,23.3V184.4M194.72,23.3V184.4M212.48,23.3V184.4M230.25,23.3V184.4M248.01,23.3V184.4M265.78,23.3V184.4M34.84,164.26H283.55M34.84,144.12H283.55M34.84,123.99H283.55M34.84,103.85H283.55M34.84,83.71H283.55M34.84,63.58H283.55M34.84,43.44H283.55" stroke="#e9e9e9" stroke-width="1" fill="none"/>
<path d="M52.6,99.82C52.65,97.14 52.68,94.26 52.74,91.77C52.8,89.61 52.83,87.58 52.96,85.73C53.06,84.13 53.13,82.69 53.38,81.3C53.62,80.02 53.93,78.61 54.38,77.67C54.7,76.99 55.03,76.56 55.51,76.06C56.07,75.48 56.77,74.95 57.57,74.45C58.53,73.86 59.63,73.37 60.91,72.84C62.58,72.15 64.72,71.41 66.81,70.82C69.12,70.18 71.85,69.78 74.2,69.21C76.36,68.7 77.88,68.24 80.38,67.6C84.26,66.62 90.2,65.14 95.24,63.98C100.43,62.78 105.84,61.66 111.08,60.51C116.26,59.38 121.36,58.19 126.5,57.13C131.64,56.08 137.07,55.05 141.92,54.19C146.25,53.42 150.13,52.7 154.22,52.18C158.25,51.67 162.29,51.41 166.3,51.09C170.27,50.78 173.88,50.59 178.16,50.28C183.22,49.93 189.1,49.47 194.72,49.08C200.54,48.67 206.57,48.47 212.48,47.87C218.42,47.26 224.33,46.32 230.25,45.45C236.18,44.58 242.8,43.7 248.01,42.63C252.19,41.78 256.03,40.42 259.17,39.81C261.43,39.37 263.1,39.28 265.07,39.01" stroke="#000" stroke-width="1.0" fill="none" stroke-linejoin="round" stroke-linecap="round"/>
<path d="M52.6,161.85C52.67,157.95 52.56,153.59 52.81,150.17C53.01,147.46 53.13,145.14 53.74,142.92C54.29,140.88 55.19,139.08 56.15,137.28C57.13,135.46 58.46,133.8 59.56,132.04C60.66,130.31 61.85,128.59 62.76,126.81C63.64,125.09 64.35,123.43 64.96,121.57C65.63,119.56 66.09,117.17 66.53,115.13C66.92,113.3 67.24,111.85 67.52,109.89C67.88,107.42 68.08,104.18 68.38,101.43C68.65,98.82 68.83,95.91 69.23,93.78C69.52,92.21 69.82,91 70.29,89.75C70.74,88.59 71.22,87.6 71.93,86.53C72.74,85.31 73.65,83.93 74.98,82.91C76.56,81.7 78.9,80.91 81.02,80.09C83.27,79.22 85.66,78.69 88.13,77.87C90.85,76.97 93.47,75.95 96.66,74.85C100.71,73.46 105.87,71.82 110.51,70.22C115.23,68.6 119.72,66.95 124.73,65.19C130.32,63.21 136.53,60.95 142.49,58.94C148.49,56.92 154.72,54.96 160.61,53.1C166.19,51.34 171.63,49.72 176.96,48.07C182.04,46.5 186.92,44.96 191.88,43.44C196.78,41.94 201.64,40.48 206.52,39.01" stroke="#000" stroke-width="1.15" fill="none" stroke-linejoin="round" stroke-linecap="round"/>
<path d="M52.6,161.8L52.6,160.9L52.6,160.0L52.6,159.1L52.6,158.2L52.6,157.2L52.6,156.3L52.6,155.4L52.6,154.5L52.7,153.6L52.7,152.6L52.7,151.7L52.7,150.8L52.8,149.9L52.9,149.0L52.9,148.1L53.0,147.1L53.1,146.2L53.2,145.3L53.3,144.4L53.5,143.5L53.7,142.6L54.0,141.7L54.3,140.8L54.6,140.0L54.9,139.1L55.3,138.3L55.7,137.5L56.2,136.7L56.6,135.9L57.1,135.1L57.6,134.3L58.1,133.6L58.6,132.8L59.1,132.0L59.6,131.2L60.1,130.4L60.6,129.7L61.1,128.9L61.6,128.1L62.0,127.3L62.4,126.5L62.8,125.7L63.2,124.8L63.6,124.0L63.9,123.1L64.2,122.3L64.5,121.4L64.8,120.5L65.0,119.6L65.2,118.7L65.4,117.8L65.6,116.9L65.8,116.0L65.9,115.1L66.1,114.2L66.3,113.3L66.5,112.4L66.6,111.5L66.8,110.6L66.9,109.7L67.0,108.8L67.1,107.8L67.2,106.9L67.3,106.0L67.4,105.1L67.5,104.2L67.5,103.3L67.6,102.3L67.7,101.4L67.8,100.5L67.9,99.6L68.0,98.7L68.1,97.8L68.2,96.9L68.3,95.9L68.4,95.0L68.6,94.1L68.8,93.2L69.0,92.3L69.2,91.4L69.4,90.5L69.7,89.7L70.1,88.8L70.5,88.0L70.9,87.2L71.4,86.4L71.9,85.7L72.5,84.9L73.0,84.2L73.7,83.5L74.4,82.9L75.1,82.4L75.9,82.0L76.7,81.6L77.6,81.2L78.4,80.8L79.3,80.5L80.1,80.2L81.0,79.9L81.9,79.6L82.8,79.3L83.6,79.0L84.5,78.8L85.4,78.5L86.3,78.2L87.2,78.0L88.0,77.7L88.9,77.4L89.8,77.1L90.6,76.8L91.5,76.5L92.4,76.2L93.3,75.9L94.1,75.6L95.0,75.3L95.9,75.0L96.7,74.7L97.6,74.4L98.5,74.1L99.4,73.8L100.2,73.5L101.1,73.2L102.0,72.9L102.8,72.6L103.7,72.4L104.6,72.1L105.5,71.8L106.3,71.5L107.2,71.2L108.1,70.9L108.9,70.6L109.8,70.3L110.7,70.0L111.6,69.7L112.4,69.4L113.3,69.1L114.2,68.8L115.0,68.5L115.9,68.2L116.8,67.8L117.6,67.5L118.5,67.2L119.4,66.9L120.2,66.6L121.1,66.3L122.0,66.0L122.8,65.7L123.7,65.4L124.6,65.1L125.4,64.8L126.3,64.5L127.2,64.1L128.0,63.8L128.9,63.5L129.8,63.2L130.6,62.9L131.5,62.6L132.4,62.3L133.2,62.0L134.1,61.7L135.0,61.4L135.8,61.1L136.7,60.8L137.6,60.5L138.4,60.2L139.3,59.9L140.2,59.6L141.1,59.3L141.9,59.0L142.8,58.7L143.7,58.4L144.5,58.1L145.4,57.8L146.3,57.5L147.2,57.2L148.0,56.9L148.9,56.6L149.8,56.3L150.6,56.0L151.5,55.8L152.4,55.5L153.3,55.2L154.1,54.9L155.0,54.6L155.9,54.3L156.8,54.0L157.6,53.7L158.5,53.4L159.4,53.1L160.3,52.9L161.1,52.6L162.0,52.3L162.9,52.0L163.8,51.7L164.6,51.4L165.5,51.1L166.4,50.9L167.3,50.6L168.1,50.3L169.0,50.0L169.9,49.7L170.8,49.4L171.6,49.2L172.5,48.9L173.4,48.6L174.3,48.3L175.1,48.0L176.0,47.7L176.9,47.5L177.8,47.2L178.6,46.9L179.5,46.6L180.4,46.3L181.3,46.0L182.1,45.8L183.0,45.5L183.9,45.2L184.8,44.9L185.6,44.6L186.5,44.4L187.4,44.1L188.3,43.8L189.1,43.5L190.0,43.2L190.9,43.0L191.8,42.7L192.6,42.4L193.5,42.1L194.4,41.8L195.3,41.6L196.1,41.3L197.0,41.0L197.9,40.7L198.8,40.4L199.6,40.1L200.5,39.9L201.4,39.6L202.3,39.3L203.1,39.0" stroke="#000" stroke-width="1.15" fill="none" stroke-linejoin="round" stroke-linecap="round"/>
<path d="M52.6,161.8L52.6,160.9L52.6,160.0L52.6,159.1L52.6,158.2L52.6,157.3L52.6,156.4L52.6,155.5L52.6,154.6L52.6,153.6L52.7,152.7L52.7,151.8L52.7,150.9L52.8,150.0L52.8,149.1L52.9,148.2L52.9,147.3L53.0,146.4L53.1,145.4L53.2,144.5L53.4,143.6L53.6,142.8L53.8,141.9L54.1,141.0L54.4,140.1L54.7,139.3L55.1,138.5L55.4,137.6L55.8,136.8L56.3,136.0L56.7,135.2L57.2,134.5L57.7,133.7L58.2,132.9L58.7,132.1L59.2,131.4L59.6,130.6L60.1,129.8L60.6,129.1L61.1,128.3L61.6,127.5L62.0,126.7L62.4,125.9L62.8,125.0L63.1,124.2L63.5,123.3L63.8,122.5L64.1,121.6L64.3,120.8L64.5,119.9L64.8,119.0L64.9,118.1L65.1,117.2L65.3,116.3L65.5,115.4L65.7,114.5L65.8,113.6L66.0,112.7L66.1,111.8L66.3,110.9L66.4,110.0L66.5,109.1L66.6,108.2L66.7,107.3L66.8,106.4L66.9,105.5L67.0,104.6L67.0,103.7L67.1,102.8L67.2,101.8L67.3,100.9L67.4,100.0L67.5,99.1L67.6,98.2L67.7,97.3L67.8,96.4L68.0,95.5L68.1,94.6L68.3,93.7L68.4,92.8L68.6,91.9L68.8,91.0L69.1,90.2L69.4,89.3L69.8,88.5L70.2,87.7L70.7,86.9L71.2,86.1L71.7,85.4L72.2,84.6L72.8,83.9L73.5,83.3L74.2,82.7L74.9,82.2L75.7,81.8L76.6,81.4L77.4,81.1L78.2,80.7L79.1,80.4L79.9,80.1L80.8,79.8L81.7,79.5L82.5,79.2L83.4,79.0L84.3,78.7L85.2,78.4L86.0,78.2L86.9,77.9L87.8,77.6L88.6,77.3L89.5,77.0L90.4,76.7L91.2,76.5L92.1,76.2L93.0,75.9L93.8,75.6L94.7,75.3L95.5,75.0L96.4,74.7L97.3,74.4L98.1,74.1L99.0,73.8L99.9,73.5L100.7,73.2L101.6,73.0L102.5,72.7L103.3,72.4L104.2,72.1L105.1,71.8L105.9,71.5L106.8,71.2L107.6,70.9L108.5,70.6L109.4,70.3L110.2,70.0L111.1,69.7L112.0,69.4L112.8,69.1L113.7,68.8L114.5,68.5L115.4,68.2L116.3,67.9L117.1,67.6L118.0,67.3L118.8,67.0L119.7,66.7L120.5,66.4L121.4,66.1L122.3,65.8L123.1,65.5L124.0,65.2L124.8,64.8L125.7,64.5L126.6,64.2L127.4,63.9L128.3,63.6L129.1,63.3L130.0,63.0L130.9,62.7L131.7,62.4L132.6,62.1L133.4,61.8L134.3,61.5L135.2,61.2L136.0,60.9L136.9,60.6L137.7,60.3L138.6,60.0L139.5,59.7L140.3,59.4L141.2,59.1L142.1,58.8L142.9,58.5L143.8,58.2L144.6,57.9L145.5,57.6L146.4,57.3L147.2,57.0L148.1,56.7L148.9,56.4L149.8,56.1L150.7,55.8L151.5,55.5L152.4,55.2L153.3,55.0L154.1,54.7L155.0,54.4L155.8,54.1L156.7,53.8L157.6,53.5L158.4,53.2L159.3,52.9L160.2,52.6L161.0,52.3L161.9,52.0L162.8,51.7L163.6,51.4L164.5,51.1L165.3,50.8L166.2,50.5L167.1,50.3L167.9,50.0L168.8,49.7L169.7,49.4L170.5,49.1L171.4,48.8L172.3,48.5L173.1,48.2L174.0,47.9L174.9,47.6L175.7,47.4L176.6,47.1L177.4,46.8L178.3,46.5L179.2,46.2L180.0,45.9L180.9,45.6L181.8,45.4L182.6,45.1L183.5,44.8L184.4,44.5L185.2,44.2L186.1,43.9L187.0,43.7L187.8,43.4L188.7,43.1L189.6,42.8L190.4,42.5L191.3,42.2L192.2,41.9L193.0,41.6L193.9,41.3L194.8,41.1L195.6,40.8L196.5,40.5L197.4,40.2L198.2,39.9L199.1,39.6L199.9,39.3L200.8,39.0" stroke="#000" stroke-width="1.15" fill="none" stroke-linejoin="round" stroke-linecap="round"/>
<path d="M52.6,161.85C52.65,157.95 52.55,153.59 52.74,150.17C52.89,147.46 52.96,145.15 53.45,142.92C53.9,140.89 54.61,139.08 55.44,137.28C56.28,135.46 57.46,133.78 58.5,132.04C59.54,130.29 60.8,128.59 61.7,126.81C62.56,125.1 63.25,123.43 63.83,121.57C64.45,119.56 64.86,117.17 65.25,115.13C65.6,113.3 65.84,111.85 66.1,109.89C66.43,107.41 66.64,104.18 66.95,101.43C67.26,98.82 67.55,95.92 67.95,93.78C68.24,92.22 68.48,91 68.94,89.75C69.37,88.59 69.88,87.6 70.58,86.53C71.37,85.31 72.25,83.92 73.56,82.91C75.13,81.7 77.48,80.91 79.6,80.09C81.85,79.22 84.2,78.68 86.71,77.87C89.54,76.96 92.41,75.97 95.73,74.85C99.83,73.47 104.84,71.81 109.45,70.22C114.15,68.59 118.66,66.95 123.66,65.19C129.25,63.21 135.5,61.02 141.43,58.94C147.35,56.86 153.44,54.7 159.19,52.7C164.6,50.82 169.99,48.95 174.97,47.26C179.41,45.75 183.49,44.44 187.61,43.03C191.56,41.69 195.34,40.35 199.2,39.01" stroke="#000" stroke-width="1.15" fill="none" stroke-linejoin="round" stroke-linecap="round"/>
<path d="M52.6,41.42C52.67,42.77 52.66,44.19 52.81,45.45C52.96,46.59 53.05,47.63 53.45,48.67C53.88,49.79 54.64,50.78 55.37,51.9C56.22,53.18 57.13,54.6 58.28,55.92C59.6,57.43 61.14,58.99 62.97,60.35C65.08,61.92 67.66,63.33 70.37,64.58C73.4,65.98 77.25,67.11 80.38,68.21C83.13,69.17 85.56,69.95 88.13,70.82C90.68,71.69 93.17,72.48 95.73,73.4C98.38,74.36 101.17,75.33 103.76,76.46C106.29,77.57 109.04,78.88 111.08,80.09C112.67,81.03 113.87,81.94 115.13,82.91C116.32,83.82 117.16,84.49 118.47,85.73C120.62,87.75 123.86,91.23 126.5,94.18C129.26,97.26 132.2,100.55 134.67,103.85C137.04,107 139,110.26 141.07,113.52C143.14,116.77 144.55,120.98 147.11,123.38C149.4,125.53 152.43,126.22 155.28,127.69C158.38,129.29 161.84,131.35 165.02,132.61C167.86,133.73 170.53,134.36 173.4,135.06C176.37,135.79 180,136.11 182.57,136.88C184.53,137.46 186.04,138.02 187.61,138.89C189.19,139.76 190.64,140.84 192.02,142.11C193.5,143.49 194.81,145.24 196.14,146.94C197.54,148.72 198.6,150.38 200.19,152.58C202.45,155.7 205.69,160.1 208.43,163.86" stroke="#000" stroke-width="1.1" fill="none" stroke-linejoin="round" stroke-linecap="round"/>
<path d="M52.6,41.4L52.6,42.3L52.7,43.1L52.7,44.0L52.7,44.8L52.8,45.7L52.9,46.5L53.1,47.3L53.3,48.2L53.6,49.0L54.0,49.7L54.4,50.4L54.9,51.1L55.3,51.8L55.8,52.6L56.3,53.3L56.8,54.0L57.3,54.6L57.8,55.3L58.3,56.0L58.9,56.6L59.5,57.2L60.1,57.8L60.7,58.4L61.3,59.0L61.9,59.5L62.6,60.1L63.3,60.6L64.0,61.1L64.7,61.5L65.4,62.0L66.1,62.4L66.9,62.8L67.6,63.2L68.4,63.6L69.1,64.0L69.9,64.4L70.7,64.7L71.4,65.0L72.2,65.4L73.0,65.7L73.8,66.0L74.6,66.3L75.4,66.5L76.2,66.8L77.0,67.1L77.8,67.3L78.6,67.6L79.4,67.9L80.2,68.2L81.0,68.4L81.8,68.7L82.6,69.0L83.4,69.3L84.2,69.5L85.0,69.8L85.9,70.1L86.7,70.3L87.5,70.6L88.3,70.9L89.1,71.1L89.9,71.4L90.7,71.7L91.5,71.9L92.3,72.2L93.1,72.5L93.9,72.7L94.7,73.0L95.5,73.3L96.3,73.6L97.1,73.9L97.9,74.2L98.7,74.5L99.5,74.8L100.3,75.1L101.0,75.4L101.8,75.8L102.6,76.1L103.4,76.4L104.1,76.8L104.9,77.2L105.7,77.5L106.4,77.9L107.2,78.3L107.9,78.8L108.6,79.2L109.3,79.6L110.1,80.1L110.8,80.6L111.4,81.1L112.1,81.6L112.8,82.1L113.5,82.6L114.2,83.1L114.8,83.6L115.4,84.2L116.0,84.8L116.6,85.4L117.2,86.1L117.7,86.7L118.3,87.4L118.8,88.0L119.3,88.7L119.8,89.4L120.3,90.0L120.8,90.7L121.3,91.4L121.8,92.1L122.3,92.8L122.8,93.4L123.3,94.1L123.8,94.8L124.3,95.5L124.8,96.2L125.2,96.9L125.7,97.6L126.2,98.3L126.7,98.9L127.2,99.6L127.6,100.3L128.1,101.0L128.6,101.7L129.1,102.4L129.6,103.1L130.0,103.8L130.5,104.5L131.0,105.2L131.5,105.9L132.0,106.6L132.5,107.3L133.0,108.0L133.4,108.7L133.9,109.4L134.4,110.1L134.9,110.8L135.4,111.5L135.9,112.2L136.3,112.8L136.8,113.5L137.3,114.2L137.8,114.9L138.2,115.7L138.7,116.4L139.1,117.1L139.6,117.8L140.1,118.5L140.5,119.2L141.0,119.9L141.5,120.6L142.0,121.2L142.6,121.9L143.1,122.5L143.8,123.1L144.4,123.7L145.0,124.2L145.7,124.7L146.4,125.2L147.1,125.6L147.8,126.1L148.5,126.5L149.3,126.9L150.0,127.3L150.7,127.8L151.5,128.2L152.2,128.6L153.0,129.0L153.7,129.3L154.5,129.7L155.3,130.0L156.1,130.4L156.8,130.7L157.6,131.0L158.4,131.4L159.1,131.7L159.9,132.1L160.7,132.4L161.5,132.8L162.3,133.1L163.0,133.4L163.8,133.7L164.6,134.0L165.4,134.2L166.3,134.5L167.1,134.7L167.9,135.0L168.7,135.2L169.5,135.4L170.3,135.6L171.2,135.8L172.0,136.0L172.8,136.1L173.6,136.3L174.5,136.5L175.3,136.6L176.1,136.8L177.0,137.0L177.8,137.3L178.6,137.5L179.4,137.8L180.2,138.1L181.0,138.4L181.7,138.8L182.5,139.2L183.2,139.6L183.9,140.1L184.6,140.6L185.2,141.2L185.8,141.7L186.5,142.3L187.1,142.9L187.6,143.5L188.2,144.2L188.7,144.8L189.3,145.5L189.8,146.1L190.3,146.8L190.9,147.5L191.3,148.2L191.8,148.9L192.3,149.6L192.8,150.3L193.2,151.0L193.7,151.7L194.2,152.4L194.6,153.1L195.1,153.8L195.5,154.6L196.0,155.3L196.4,156.0L196.9,156.7L197.3,157.4L197.8,158.1L198.2,158.8L198.7,159.6L199.1,160.3L199.6,161.0L200.0,161.7L200.5,162.4L200.9,163.1L201.4,163.9" stroke="#000" stroke-width="1.1" fill="none" stroke-linejoin="round" stroke-linecap="round"/>
<path d="M52.6,41.4L52.6,42.3L52.7,43.1L52.7,43.9L52.7,44.8L52.8,45.6L52.9,46.5L53.1,47.3L53.3,48.1L53.5,48.9L53.9,49.6L54.4,50.4L54.8,51.1L55.3,51.8L55.7,52.5L56.2,53.2L56.7,53.9L57.2,54.5L57.7,55.2L58.2,55.8L58.8,56.5L59.4,57.1L59.9,57.7L60.5,58.3L61.2,58.9L61.8,59.4L62.4,59.9L63.1,60.4L63.8,60.9L64.5,61.4L65.2,61.8L65.9,62.3L66.7,62.7L67.4,63.1L68.1,63.5L68.9,63.9L69.6,64.2L70.4,64.6L71.2,64.9L71.9,65.3L72.7,65.6L73.5,65.9L74.3,66.1L75.1,66.4L75.9,66.7L76.7,67.0L77.5,67.2L78.3,67.5L79.1,67.8L79.9,68.0L80.7,68.3L81.5,68.6L82.3,68.9L83.1,69.1L83.9,69.4L84.6,69.7L85.4,69.9L86.2,70.2L87.0,70.5L87.8,70.7L88.6,71.0L89.4,71.3L90.2,71.5L91.0,71.8L91.8,72.0L92.6,72.3L93.4,72.6L94.2,72.9L95.0,73.1L95.8,73.4L96.6,73.7L97.4,74.0L98.2,74.3L98.9,74.6L99.7,74.9L100.5,75.2L101.3,75.6L102.0,75.9L102.8,76.2L103.6,76.6L104.3,77.0L105.1,77.3L105.8,77.7L106.5,78.2L107.3,78.6L108.0,79.0L108.7,79.5L109.4,79.9L110.1,80.4L110.8,80.9L111.5,81.4L112.2,81.9L112.8,82.4L113.5,82.9L114.1,83.4L114.7,84.0L115.3,84.6L115.9,85.2L116.4,85.9L117.0,86.5L117.5,87.2L117.9,87.9L118.4,88.5L118.9,89.2L119.4,89.9L119.8,90.6L120.3,91.3L120.8,92.0L121.2,92.7L121.7,93.4L122.2,94.1L122.6,94.8L123.1,95.5L123.5,96.2L124.0,96.9L124.4,97.6L124.9,98.3L125.3,99.0L125.8,99.7L126.2,100.4L126.7,101.1L127.2,101.8L127.6,102.5L128.1,103.2L128.6,103.9L129.0,104.6L129.5,105.3L130.0,106.0L130.5,106.7L131.0,107.4L131.4,108.0L131.9,108.7L132.4,109.4L132.9,110.1L133.4,110.8L133.9,111.5L134.4,112.1L134.9,112.8L135.4,113.5L135.8,114.2L136.3,114.9L136.8,115.5L137.3,116.2L137.8,116.9L138.2,117.6L138.7,118.3L139.2,119.0L139.7,119.7L140.2,120.3L140.7,121.0L141.3,121.6L141.8,122.2L142.4,122.8L143.0,123.4L143.7,124.0L144.3,124.5L145.0,125.0L145.6,125.5L146.3,126.0L147.0,126.4L147.7,126.9L148.4,127.3L149.1,127.8L149.9,128.2L150.6,128.6L151.3,129.0L152.1,129.3L152.9,129.6L153.7,130.0L154.4,130.3L155.2,130.6L156.0,130.9L156.8,131.2L157.5,131.6L158.3,132.0L159.0,132.3L159.8,132.7L160.6,133.0L161.3,133.3L162.1,133.6L162.9,133.9L163.7,134.2L164.5,134.4L165.3,134.7L166.1,134.9L166.9,135.2L167.7,135.4L168.5,135.6L169.3,135.8L170.2,136.0L171.0,136.2L171.8,136.4L172.6,136.5L173.5,136.7L174.3,136.9L175.1,137.1L175.9,137.3L176.7,137.6L177.5,137.8L178.3,138.1L179.1,138.4L179.8,138.8L180.6,139.2L181.3,139.6L182.0,140.1L182.6,140.6L183.3,141.2L183.9,141.7L184.5,142.3L185.1,142.9L185.7,143.5L186.2,144.2L186.8,144.8L187.3,145.4L187.8,146.1L188.4,146.8L188.9,147.4L189.4,148.1L189.8,148.8L190.3,149.5L190.8,150.2L191.2,150.9L191.7,151.6L192.1,152.3L192.5,153.1L193.0,153.8L193.4,154.5L193.8,155.2L194.3,155.9L194.7,156.6L195.1,157.4L195.5,158.1L196.0,158.8L196.4,159.5L196.8,160.3L197.3,161.0L197.7,161.7L198.1,162.4L198.5,163.1L199.0,163.9" stroke="#000" stroke-width="1.1" fill="none" stroke-linejoin="round" stroke-linecap="round"/>
<path d="M52.6,41.4L52.6,42.3L52.7,43.1L52.7,43.9L52.7,44.8L52.8,45.6L52.9,46.4L53.1,47.2L53.3,48.0L53.5,48.8L53.9,49.6L54.3,50.3L54.8,51.0L55.2,51.7L55.7,52.4L56.1,53.1L56.6,53.8L57.1,54.4L57.6,55.1L58.1,55.7L58.7,56.4L59.3,57.0L59.8,57.6L60.4,58.2L61.0,58.7L61.7,59.3L62.3,59.8L63.0,60.3L63.6,60.8L64.3,61.3L65.0,61.7L65.7,62.2L66.5,62.6L67.2,63.0L67.9,63.4L68.7,63.8L69.4,64.1L70.2,64.5L70.9,64.8L71.7,65.2L72.5,65.5L73.2,65.8L74.0,66.0L74.8,66.3L75.6,66.6L76.4,66.9L77.2,67.1L78.0,67.4L78.8,67.7L79.5,67.9L80.3,68.2L81.1,68.5L81.9,68.7L82.7,69.0L83.5,69.3L84.3,69.5L85.1,69.8L85.9,70.1L86.6,70.3L87.4,70.6L88.2,70.9L89.0,71.1L89.8,71.4L90.6,71.6L91.4,71.9L92.2,72.2L93.0,72.4L93.8,72.7L94.5,73.0L95.3,73.2L96.1,73.5L96.9,73.8L97.7,74.1L98.4,74.4L99.2,74.7L100.0,75.1L100.8,75.4L101.5,75.7L102.3,76.1L103.0,76.4L103.8,76.8L104.5,77.2L105.3,77.6L106.0,78.0L106.7,78.4L107.4,78.8L108.1,79.3L108.8,79.8L109.5,80.2L110.2,80.7L110.8,81.2L111.5,81.7L112.2,82.2L112.8,82.7L113.5,83.2L114.1,83.8L114.6,84.4L115.2,85.0L115.7,85.7L116.2,86.3L116.7,87.0L117.2,87.7L117.6,88.4L118.1,89.1L118.5,89.8L118.9,90.5L119.4,91.2L119.8,91.9L120.3,92.6L120.7,93.3L121.1,94.1L121.6,94.8L122.0,95.5L122.4,96.2L122.8,96.9L123.3,97.6L123.7,98.3L124.1,99.0L124.5,99.8L124.9,100.5L125.4,101.2L125.8,101.9L126.2,102.6L126.7,103.3L127.2,104.0L127.6,104.7L128.1,105.4L128.6,106.1L129.0,106.7L129.5,107.4L130.0,108.1L130.5,108.8L131.0,109.4L131.5,110.1L132.0,110.8L132.5,111.5L133.0,112.1L133.5,112.8L134.0,113.5L134.5,114.1L135.0,114.8L135.5,115.5L136.0,116.1L136.4,116.8L136.9,117.5L137.4,118.1L137.9,118.8L138.4,119.4L139.0,120.1L139.5,120.7L140.0,121.4L140.6,122.0L141.2,122.6L141.7,123.2L142.4,123.8L143.0,124.3L143.6,124.8L144.2,125.4L144.9,125.9L145.6,126.4L146.2,126.8L146.9,127.3L147.6,127.8L148.3,128.2L149.1,128.6L149.8,129.0L150.6,129.3L151.4,129.6L152.1,129.9L152.9,130.2L153.7,130.5L154.5,130.8L155.2,131.1L156.0,131.5L156.7,131.8L157.5,132.2L158.2,132.5L159.0,132.9L159.7,133.2L160.5,133.6L161.3,133.9L162.1,134.1L162.9,134.4L163.7,134.7L164.4,134.9L165.2,135.2L166.0,135.4L166.8,135.6L167.6,135.9L168.5,136.1L169.3,136.2L170.1,136.4L170.9,136.6L171.7,136.8L172.5,137.0L173.3,137.2L174.1,137.4L174.9,137.6L175.7,137.9L176.5,138.1L177.3,138.4L178.0,138.8L178.8,139.2L179.5,139.6L180.2,140.1L180.8,140.6L181.4,141.2L182.1,141.7L182.7,142.3L183.2,142.9L183.8,143.5L184.4,144.2L184.9,144.8L185.4,145.4L186.0,146.1L186.5,146.7L187.0,147.4L187.5,148.0L188.0,148.7L188.4,149.4L188.9,150.1L189.3,150.8L189.7,151.6L190.2,152.3L190.6,153.0L191.0,153.7L191.4,154.4L191.8,155.2L192.2,155.9L192.6,156.6L193.0,157.3L193.4,158.1L193.9,158.8L194.3,159.5L194.7,160.2L195.1,161.0L195.5,161.7L195.9,162.4L196.3,163.1L196.7,163.9" stroke="#000" stroke-width="1.1" fill="none" stroke-linejoin="round" stroke-linecap="round"/>
<path d="M52.6,41.42C52.67,42.77 52.66,44.19 52.81,45.45C52.96,46.59 53.05,47.63 53.45,48.67C53.88,49.79 54.64,50.78 55.37,51.9C56.22,53.18 57.13,54.6 58.28,55.92C59.6,57.43 61.14,58.99 62.97,60.35C65.08,61.92 67.66,63.33 70.37,64.58C73.4,65.98 77.25,67.11 80.38,68.21C83.13,69.17 85.56,69.95 88.13,70.82C90.68,71.69 93.18,72.42 95.73,73.4C98.39,74.42 101.36,75.59 103.76,76.87C105.87,77.98 107.84,79.37 109.45,80.49C110.69,81.35 111.69,82.02 112.65,82.91C113.57,83.77 114.23,84.48 115.13,85.73C116.59,87.74 118.43,91.26 120.11,94.18C121.89,97.29 123.46,100.66 125.51,103.85C127.69,107.24 130.29,110.61 132.9,113.92C135.58,117.32 138.74,121.41 141.43,123.99C143.41,125.89 145.09,127.27 147.11,128.42C149.05,129.52 151.27,129.96 153.29,130.83C155.3,131.7 157.21,132.84 159.19,133.65C161.12,134.44 162.73,134.94 165.02,135.67C168.23,136.69 173.44,137.25 176.67,139.09C179.56,140.74 181.96,143.66 183.78,145.74C185.13,147.29 185.94,148.63 186.9,150.17C187.88,151.72 188.59,153.14 189.6,155C190.97,157.5 192.73,160.91 194.29,163.86" stroke="#000" stroke-width="1.1" fill="none" stroke-linejoin="round" stroke-linecap="round"/>
<path d="M34.84,23.3H283.55V184.4H34.84Z" stroke="#6b6b6b" stroke-width="1.2" fill="none"/>
<path d="M31.23,184.4H34.84M32.44,164.26H34.84M31.23,144.12H34.84M32.44,123.99H34.84M31.23,103.85H34.84M32.44,83.71H34.84M31.23,63.58H34.84M32.44,43.44H34.84M31.23,23.3H34.84M34.84,184.4V186.8M52.6,184.4V188M70.37,184.4V186.8M88.13,184.4V188M105.9,184.4V186.8M123.66,184.4V188M141.43,184.4V186.8M159.19,184.4V188M176.96,184.4V186.8M194.72,184.4V188M212.48,184.4V186.8M230.25,184.4V188M248.01,184.4V186.8M265.78,184.4V188M283.55,184.4V186.8" stroke="#6b6b6b" stroke-width="1.2" fill="none"/>
<text x="26.4" y="188.4" font-size="11.5" text-anchor="end">1</text>
<text x="26.4" y="148.12" font-size="11.5" text-anchor="end">2</text>
<text x="26.4" y="107.85" font-size="11.5" text-anchor="end">3</text>
<text x="26.4" y="67.58" font-size="11.5" text-anchor="end">4</text>
<text x="26.4" y="27.3" font-size="11.5" text-anchor="end">5</text>
<text x="52.6" y="201.9" font-size="11.5" text-anchor="middle">0</text>
<text x="88.13" y="201.9" font-size="11.5" text-anchor="middle">50</text>
<text x="123.66" y="201.9" font-size="11.5" text-anchor="middle">100</text>
<text x="159.19" y="201.9" font-size="11.5" text-anchor="middle">150</text>
<text x="194.72" y="201.9" font-size="11.5" text-anchor="middle">200</text>
<text x="230.25" y="201.9" font-size="11.5" text-anchor="middle">250</text>
<text x="265.78" y="201.9" font-size="11.5" text-anchor="middle">300</text>
<text x="159.5" y="220.7" font-size="11.5" text-anchor="middle"><tspan>Specific capacity (mAh g</tspan><tspan dy="-4.49" dx="0.3" font-size="7.59">−1</tspan><tspan dy="4.49" dx="1.2">)</tspan></text>
<text transform="translate(9.2,105.85) rotate(-90)" font-size="11.5" text-anchor="middle">Voltage (V)</text>
<text x="158.4" y="15.8" font-size="11.5" text-anchor="middle"><tspan>LN20, 1.5</tspan><tspan dx="0.9">–</tspan><tspan dx="0.9">4.6 V, 20 mA g</tspan><tspan dy="-4.49" dx="0.3" font-size="7.59">−1</tspan><tspan dy="4.49" dx="1.2">, RT</tspan></text>
<text x="-1.8" y="11" font-size="16.5" font-weight="bold">b</text>
<text x="40.3" y="176.3" font-size="11.5" text-anchor="start"><tspan>220 mAh g</tspan><tspan dy="-4.49" dx="0.3" font-size="7.59">−1</tspan><tspan dy="4.49" dx="1.2">, 672 Wh kg</tspan><tspan dy="-4.49" dx="0.3" font-size="7.59">−1</tspan></text>
<text x="197.9" y="36.6" font-size="11.5" text-anchor="middle">5</text>
<text x="207.8" y="36.6" font-size="11.5" text-anchor="middle">2</text>
<text x="263.1" y="36.6" font-size="11.5" text-anchor="middle">1</text>
<text x="195.9" y="176.9" font-size="11.5" text-anchor="middle">5</text>
<text x="209" y="176.9" font-size="11.5" text-anchor="middle">1</text>
<rect x="228.9" y="53.6" width="104.2" height="79.55" fill="#fff"/>
<path d="M228.9,121.47H333.1M228.9,109.83H333.1M228.9,98.2H333.1M228.9,86.56H333.1M228.9,74.93H333.1M228.9,63.3H333.1M252.34,53.6V133.15M273.19,53.6V133.15M294.02,53.6V133.15M314.87,53.6V133.15" stroke="#e9e9e9" stroke-width="0.8" fill="none"/>
<polyline points="231.5,63.68 236.72,94.71 241.93,97.03 247.13,100.14 252.34,100.91 257.56,102.08 262.76,102.85 267.98,103.63 273.19,104.4 278.39,105.57 283.61,105.95 288.81,107.12 294.02,107.12 299.24,107.89 304.44,108.67 309.65,109.83 314.87,109.83 320.07,110.61 325.29,110.61 330.5,110.61" stroke="#000" stroke-width="0.5" fill="none"/>
<polyline points="231.5,93.93 236.72,98.2 241.93,98.97 247.13,100.52 252.34,101.3 257.56,102.46 262.76,103.24 267.98,104.02 273.19,104.79 278.39,105.95 283.61,106.34 288.81,107.51 294.02,107.51 299.24,108.28 304.44,109.06 309.65,109.83 314.87,110.22 320.07,111 325.29,111 330.5,111" stroke="#000" stroke-width="0.75" fill="none"/>
<polygon points="231.5,60.73 228.85,65.5 234.16,65.5" fill="#fff" stroke="#000" stroke-width="0.9" stroke-linejoin="miter"/>
<polygon points="236.72,91.75 234.06,96.52 239.37,96.52" fill="#fff" stroke="#000" stroke-width="0.9" stroke-linejoin="miter"/>
<polygon points="241.93,94.08 239.28,98.85 244.58,98.85" fill="#fff" stroke="#000" stroke-width="0.9" stroke-linejoin="miter"/>
<polygon points="247.13,97.18 244.48,101.95 249.78,101.95" fill="#fff" stroke="#000" stroke-width="0.9" stroke-linejoin="miter"/>
<polygon points="252.34,97.96 249.69,102.73 255,102.73" fill="#fff" stroke="#000" stroke-width="0.9" stroke-linejoin="miter"/>
<polygon points="257.56,99.12 254.91,103.89 260.2,103.89" fill="#fff" stroke="#000" stroke-width="0.9" stroke-linejoin="miter"/>
<polygon points="262.76,99.89 260.12,104.66 265.41,104.66" fill="#fff" stroke="#000" stroke-width="0.9" stroke-linejoin="miter"/>
<polygon points="267.98,100.67 265.33,105.44 270.62,105.44" fill="#fff" stroke="#000" stroke-width="0.9" stroke-linejoin="miter"/>
<polygon points="273.19,101.45 270.54,106.22 275.83,106.22" fill="#fff" stroke="#000" stroke-width="0.9" stroke-linejoin="miter"/>
<polygon points="278.39,102.61 275.75,107.38 281.04,107.38" fill="#fff" stroke="#000" stroke-width="0.9" stroke-linejoin="miter"/>
<polygon points="283.61,103 280.96,107.77 286.25,107.77" fill="#fff" stroke="#000" stroke-width="0.9" stroke-linejoin="miter"/>
<polygon points="288.81,104.16 286.17,108.93 291.46,108.93" fill="#fff" stroke="#000" stroke-width="0.9" stroke-linejoin="miter"/>
<polygon points="294.02,104.16 291.38,108.93 296.67,108.93" fill="#fff" stroke="#000" stroke-width="0.9" stroke-linejoin="miter"/>
<polygon points="299.24,104.94 296.59,109.71 301.88,109.71" fill="#fff" stroke="#000" stroke-width="0.9" stroke-linejoin="miter"/>
<polygon points="304.44,105.71 301.8,110.48 307.09,110.48" fill="#fff" stroke="#000" stroke-width="0.9" stroke-linejoin="miter"/>
<polygon points="309.65,106.87 307,111.64 312.3,111.64" fill="#fff" stroke="#000" stroke-width="0.9" stroke-linejoin="miter"/>
<polygon points="314.87,106.87 312.22,111.64 317.51,111.64" fill="#fff" stroke="#000" stroke-width="0.9" stroke-linejoin="miter"/>
<polygon points="320.07,107.65 317.43,112.42 322.72,112.42" fill="#fff" stroke="#000" stroke-width="0.9" stroke-linejoin="miter"/>
<polygon points="325.29,107.65 322.64,112.42 327.94,112.42" fill="#fff" stroke="#000" stroke-width="0.9" stroke-linejoin="miter"/>
<polygon points="330.5,107.65 327.85,112.42 333.14,112.42" fill="#fff" stroke="#000" stroke-width="0.9" stroke-linejoin="miter"/>
<polygon points="231.5,90.97 228.85,95.74 234.16,95.74" fill="#000" stroke="#000" stroke-width="0.6" stroke-linejoin="miter"/>
<polygon points="236.72,95.24 234.06,100.01 239.37,100.01" fill="#000" stroke="#000" stroke-width="0.6" stroke-linejoin="miter"/>
<polygon points="241.93,96.02 239.28,100.79 244.58,100.79" fill="#000" stroke="#000" stroke-width="0.6" stroke-linejoin="miter"/>
<polygon points="247.13,97.57 244.48,102.34 249.78,102.34" fill="#000" stroke="#000" stroke-width="0.6" stroke-linejoin="miter"/>
<polygon points="252.34,98.34 249.69,103.11 255,103.11" fill="#000" stroke="#000" stroke-width="0.6" stroke-linejoin="miter"/>
<polygon points="257.56,99.51 254.91,104.28 260.2,104.28" fill="#000" stroke="#000" stroke-width="0.6" stroke-linejoin="miter"/>
<polygon points="262.76,100.28 260.12,105.05 265.41,105.05" fill="#000" stroke="#000" stroke-width="0.6" stroke-linejoin="miter"/>
<polygon points="267.98,101.06 265.33,105.83 270.62,105.83" fill="#000" stroke="#000" stroke-width="0.6" stroke-linejoin="miter"/>
<polygon points="273.19,101.83 270.54,106.6 275.83,106.6" fill="#000" stroke="#000" stroke-width="0.6" stroke-linejoin="miter"/>
<polygon points="278.39,103 275.75,107.77 281.04,107.77" fill="#000" stroke="#000" stroke-width="0.6" stroke-linejoin="miter"/>
<polygon points="283.61,103.38 280.96,108.15 286.25,108.15" fill="#000" stroke="#000" stroke-width="0.6" stroke-linejoin="miter"/>
<polygon points="288.81,104.55 286.17,109.32 291.46,109.32" fill="#000" stroke="#000" stroke-width="0.6" stroke-linejoin="miter"/>
<polygon points="294.02,104.55 291.38,109.32 296.67,109.32" fill="#000" stroke="#000" stroke-width="0.6" stroke-linejoin="miter"/>
<polygon points="299.24,105.32 296.59,110.09 301.88,110.09" fill="#000" stroke="#000" stroke-width="0.6" stroke-linejoin="miter"/>
<polygon points="304.44,106.1 301.8,110.87 307.09,110.87" fill="#000" stroke="#000" stroke-width="0.6" stroke-linejoin="miter"/>
<polygon points="309.65,106.87 307,111.64 312.3,111.64" fill="#000" stroke="#000" stroke-width="0.6" stroke-linejoin="miter"/>
<polygon points="314.87,107.26 312.22,112.03 317.51,112.03" fill="#000" stroke="#000" stroke-width="0.6" stroke-linejoin="miter"/>
<polygon points="320.07,108.04 317.43,112.81 322.72,112.81" fill="#000" stroke="#000" stroke-width="0.6" stroke-linejoin="miter"/>
<polygon points="325.29,108.04 322.64,112.81 327.94,112.81" fill="#000" stroke="#000" stroke-width="0.6" stroke-linejoin="miter"/>
<polygon points="330.5,108.04 327.85,112.81 333.14,112.81" fill="#000" stroke="#000" stroke-width="0.6" stroke-linejoin="miter"/>
<rect x="228.9" y="53.6" width="104.2" height="79.55" fill="none" stroke="#6b6b6b" stroke-width="1.1"/>
<path d="M227.1,133.1H228.9M227.7,127.28H228.9M227.1,121.47H228.9M227.7,115.65H228.9M227.1,109.83H228.9M227.7,104.02H228.9M227.1,98.2H228.9M227.7,92.38H228.9M227.1,86.56H228.9M227.7,80.75H228.9M227.1,74.93H228.9M227.7,69.11H228.9M227.1,63.3H228.9M227.7,57.48H228.9M231.5,133.15V134.65M241.93,133.15V134.65M252.34,133.15V134.65M262.76,133.15V134.65M273.19,133.15V134.65M283.61,133.15V134.65M294.02,133.15V134.65M304.44,133.15V134.65M314.87,133.15V134.65M325.29,133.15V134.65" stroke="#6b6b6b" stroke-width="0.9" fill="none"/>
<text x="224.2" y="135.9" font-size="8.4" text-anchor="end">120</text>
<text x="224.2" y="124.27" font-size="8.4" text-anchor="end">150</text>
<text x="224.2" y="112.63" font-size="8.4" text-anchor="end">180</text>
<text x="224.2" y="101" font-size="8.4" text-anchor="end">210</text>
<text x="224.2" y="89.36" font-size="8.4" text-anchor="end">240</text>
<text x="224.2" y="77.73" font-size="8.4" text-anchor="end">270</text>
<text x="224.2" y="66.1" font-size="8.4" text-anchor="end">300</text>
<text x="231.5" y="143.8" font-size="8.4" text-anchor="middle">1</text>
<text x="252.34" y="143.8" font-size="8.4" text-anchor="middle">5</text>
<text x="273.19" y="143.8" font-size="8.4" text-anchor="middle">9</text>
<text x="294.02" y="143.8" font-size="8.4" text-anchor="middle">13</text>
<text x="314.87" y="143.8" font-size="8.4" text-anchor="middle">17</text>
<rect x="255" y="147.5" width="55" height="14" fill="#fff"/>
<text x="281.8" y="157.4" font-size="8.4" text-anchor="middle">Cycle number</text>
<text x="0" y="0" font-size="8.2" text-anchor="middle" transform="translate(202.1,93.1) rotate(-90)"><tspan>Capacity (mAh g</tspan><tspan dy="-3.2" dx="0.3" font-size="5.41">−1</tspan><tspan dy="3.2" dx="1.2">)</tspan></text>
<path d="M267.1,64H280.3M267.1,76.4H280.3" stroke="#000" stroke-width="0.6"/>
<polygon points="273.7,59.58 270.1,66.06 277.3,66.06" fill="#fff" stroke="#000" stroke-width="0.9" stroke-linejoin="miter"/>
<polygon points="273.7,71.98 270.1,78.46 277.3,78.46" fill="#000" stroke="#000" stroke-width="0.6" stroke-linejoin="miter"/>
<text x="284.8" y="67.4" font-size="8.4">Charge</text>
<text x="284.8" y="79.8" font-size="8.4">Discharge</text></g>
<g transform="translate(0,244.7)"><path d="M52.6,23.3V184.4M70.37,23.3V184.4M88.13,23.3V184.4M105.9,23.3V184.4M123.66,23.3V184.4M141.43,23.3V184.4M159.19,23.3V184.4M176.96,23.3V184.4M194.72,23.3V184.4M212.48,23.3V184.4M230.25,23.3V184.4M248.01,23.3V184.4M265.78,23.3V184.4M34.84,164.26H283.55M34.84,144.12H283.55M34.84,123.99H283.55M34.84,103.85H283.55M34.84,83.71H283.55M34.84,63.58H283.55M34.84,43.44H283.55" stroke="#e9e9e9" stroke-width="1" fill="none"/>
<path d="M52.6,107.07C52.65,103.31 52.68,99.45 52.74,95.8C52.8,92.34 52.86,88.71 52.96,85.73C53.03,83.34 52.9,81.04 53.24,79.28C53.49,78 53.85,76.97 54.38,76.06C54.83,75.26 55.34,74.66 56.08,74.05C57.01,73.28 58.27,72.68 59.71,72.03C61.62,71.18 63.69,70.47 66.67,69.62C71.77,68.15 80.56,66.24 87.77,64.78C95.28,63.27 103.53,62.01 110.87,60.76C117.54,59.61 123.39,58.72 129.98,57.53C137.09,56.26 145.02,54.63 152.08,53.3C158.57,52.09 164.7,50.87 170.77,49.88C176.52,48.94 181.88,48.26 187.61,47.47C193.58,46.64 199.88,45.87 205.88,45.05C211.71,44.25 217.66,43.7 223.14,42.63C228.23,41.65 232.86,40.22 237.71,39.01" stroke="#000" stroke-width="1.0" fill="none" stroke-linejoin="round" stroke-linecap="round"/>
<path d="M52.6,159.43C52.74,156.34 52.84,153.32 53.03,150.17C53.22,146.88 53.49,144.11 53.74,140.1C54.11,134.15 54.37,124.87 54.94,117.95C55.45,111.81 56.07,104.6 56.86,100.63C57.29,98.49 57.64,97.3 58.28,95.8C58.91,94.35 59.59,93.1 60.63,91.77C61.9,90.14 63.66,88.45 65.6,86.93C67.84,85.19 70.14,83.75 73.42,82.1C78.35,79.63 86.28,76.75 92.75,74.45C99.12,72.19 105.45,70.21 111.94,68.41C118.48,66.59 125.09,65.43 131.83,63.58C138.93,61.63 146.51,59.14 153.51,56.93C160.1,54.84 166.55,52.67 172.69,50.69C178.36,48.86 183.7,47.41 189.04,45.45C194.31,43.51 199.36,41.16 204.53,39.01" stroke="#000" stroke-width="1.15" fill="none" stroke-linejoin="round" stroke-linecap="round"/>
<path d="M52.6,159.4L52.6,158.5L52.7,157.6L52.7,156.7L52.7,155.8L52.8,154.8L52.8,153.9L52.9,153.0L52.9,152.1L52.9,151.2L53.0,150.2L53.0,149.3L53.1,148.4L53.2,147.5L53.2,146.6L53.3,145.6L53.4,144.7L53.4,143.8L53.5,142.9L53.6,142.0L53.6,141.1L53.7,140.1L53.7,139.2L53.8,138.3L53.8,137.4L53.9,136.5L53.9,135.5L54.0,134.6L54.0,133.7L54.0,132.8L54.1,131.9L54.1,131.0L54.2,130.0L54.2,129.1L54.2,128.2L54.3,127.3L54.3,126.4L54.4,125.4L54.4,124.5L54.5,123.6L54.5,122.7L54.6,121.8L54.6,120.8L54.7,119.9L54.8,119.0L54.8,118.1L54.9,117.2L55.0,116.3L55.1,115.3L55.1,114.4L55.2,113.5L55.3,112.6L55.4,111.7L55.5,110.8L55.5,109.8L55.6,108.9L55.7,108.0L55.8,107.1L55.9,106.2L56.0,105.3L56.1,104.4L56.3,103.4L56.4,102.5L56.5,101.6L56.7,100.7L56.9,99.8L57.1,98.9L57.3,98.0L57.6,97.2L57.9,96.3L58.2,95.4L58.6,94.6L59.1,93.8L59.5,93.0L60.0,92.2L60.6,91.5L61.2,90.8L61.8,90.1L62.4,89.5L63.1,88.8L63.8,88.2L64.5,87.6L65.2,87.0L65.9,86.5L66.6,85.9L67.4,85.4L68.2,84.9L68.9,84.4L69.7,83.9L70.5,83.4L71.3,83.0L72.1,82.6L73.0,82.1L73.8,81.7L74.6,81.3L75.4,81.0L76.3,80.6L77.1,80.2L78.0,79.9L78.8,79.5L79.7,79.2L80.5,78.8L81.4,78.5L82.2,78.1L83.1,77.8L84.0,77.5L84.8,77.2L85.7,76.8L86.5,76.5L87.4,76.2L88.3,75.9L89.1,75.6L90.0,75.3L90.9,74.9L91.7,74.6L92.6,74.3L93.5,74.0L94.3,73.7L95.2,73.4L96.1,73.1L97.0,72.8L97.8,72.5L98.7,72.3L99.6,72.0L100.5,71.7L101.3,71.4L102.2,71.1L103.1,70.9L104.0,70.6L104.8,70.3L105.7,70.1L106.6,69.8L107.5,69.5L108.4,69.3L109.3,69.0L110.1,68.8L111.0,68.5L111.9,68.3L112.8,68.1L113.7,67.8L114.6,67.6L115.5,67.4L116.4,67.2L117.3,66.9L118.2,66.7L119.1,66.5L120.0,66.3L120.9,66.1L121.8,65.9L122.6,65.7L123.5,65.5L124.4,65.3L125.3,65.1L126.2,64.9L127.1,64.7L128.0,64.4L128.9,64.2L129.8,64.0L130.7,63.7L131.6,63.5L132.5,63.3L133.4,63.0L134.2,62.7L135.1,62.5L136.0,62.2L136.9,62.0L137.8,61.7L138.6,61.4L139.5,61.2L140.4,60.9L141.3,60.6L142.2,60.3L143.0,60.1L143.9,59.8L144.8,59.5L145.7,59.2L146.5,58.9L147.4,58.6L148.3,58.4L149.2,58.1L150.0,57.8L150.9,57.5L151.8,57.2L152.7,56.9L153.5,56.6L154.4,56.3L155.3,56.1L156.1,55.8L157.0,55.5L157.9,55.2L158.8,54.9L159.6,54.6L160.5,54.3L161.4,54.0L162.2,53.7L163.1,53.4L164.0,53.1L164.9,52.8L165.7,52.5L166.6,52.2L167.5,51.9L168.3,51.6L169.2,51.3L170.1,51.0L170.9,50.7L171.8,50.4L172.7,50.1L173.5,49.8L174.4,49.5L175.3,49.2L176.2,48.9L177.0,48.6L177.9,48.3L178.8,48.0L179.6,47.7L180.5,47.4L181.4,47.1L182.2,46.8L183.1,46.5L184.0,46.2L184.8,45.8L185.7,45.5L186.5,45.2L187.4,44.8L188.3,44.5L189.1,44.2L190.0,43.8L190.8,43.5L191.7,43.1L192.5,42.8L193.4,42.4L194.2,42.0L195.1,41.7L195.9,41.3L196.8,41.0L197.6,40.6L198.4,40.3L199.3,39.9L200.1,39.5L201.0,39.2" stroke="#000" stroke-width="1.15" fill="none" stroke-linejoin="round" stroke-linecap="round"/>
<path d="M52.6,159.4L52.6,158.5L52.7,157.6L52.7,156.7L52.7,155.8L52.8,154.9L52.8,154.0L52.8,153.1L52.9,152.1L52.9,151.2L53.0,150.3L53.0,149.4L53.1,148.5L53.1,147.6L53.2,146.7L53.2,145.8L53.3,144.9L53.4,144.0L53.4,143.1L53.5,142.1L53.6,141.2L53.6,140.3L53.7,139.4L53.7,138.5L53.8,137.6L53.8,136.7L53.8,135.8L53.9,134.9L53.9,134.0L54.0,133.1L54.0,132.1L54.0,131.2L54.1,130.3L54.1,129.4L54.2,128.5L54.2,127.6L54.3,126.7L54.3,125.8L54.3,124.9L54.4,124.0L54.4,123.0L54.5,122.1L54.6,121.2L54.6,120.3L54.7,119.4L54.7,118.5L54.8,117.6L54.9,116.7L55.0,115.8L55.0,114.9L55.1,114.0L55.2,113.1L55.3,112.1L55.3,111.2L55.4,110.3L55.5,109.4L55.6,108.5L55.7,107.6L55.8,106.7L55.9,105.8L56.0,104.9L56.1,104.0L56.2,103.1L56.3,102.2L56.5,101.3L56.6,100.4L56.8,99.5L57.0,98.6L57.3,97.7L57.5,96.9L57.8,96.0L58.2,95.2L58.6,94.3L59.0,93.5L59.5,92.8L60.0,92.0L60.5,91.3L61.1,90.6L61.7,89.9L62.4,89.3L63.0,88.6L63.7,88.0L64.4,87.4L65.1,86.9L65.8,86.3L66.6,85.8L67.3,85.3L68.1,84.7L68.8,84.3L69.6,83.8L70.4,83.3L71.2,82.9L72.0,82.5L72.8,82.1L73.6,81.7L74.5,81.3L75.3,80.9L76.1,80.5L76.9,80.2L77.8,79.8L78.6,79.4L79.5,79.1L80.3,78.8L81.2,78.4L82.0,78.1L82.9,77.8L83.7,77.4L84.6,77.1L85.4,76.8L86.3,76.5L87.1,76.2L88.0,75.9L88.8,75.6L89.7,75.2L90.6,74.9L91.4,74.6L92.3,74.3L93.1,74.0L94.0,73.7L94.9,73.4L95.7,73.1L96.6,72.8L97.4,72.6L98.3,72.3L99.2,72.0L100.0,71.7L100.9,71.4L101.8,71.2L102.6,70.9L103.5,70.6L104.4,70.4L105.3,70.1L106.1,69.8L107.0,69.6L107.9,69.3L108.8,69.1L109.6,68.8L110.5,68.6L111.4,68.3L112.3,68.1L113.1,67.9L114.0,67.6L114.9,67.4L115.8,67.2L116.7,67.0L117.6,66.8L118.5,66.6L119.3,66.4L120.2,66.2L121.1,66.0L122.0,65.8L122.9,65.6L123.8,65.4L124.7,65.2L125.6,65.0L126.4,64.7L127.3,64.5L128.2,64.3L129.1,64.1L130.0,63.8L130.9,63.6L131.7,63.4L132.6,63.1L133.5,62.9L134.4,62.6L135.2,62.3L136.1,62.1L137.0,61.8L137.8,61.5L138.7,61.3L139.6,61.0L140.5,60.7L141.3,60.5L142.2,60.2L143.1,59.9L143.9,59.6L144.8,59.3L145.7,59.0L146.5,58.8L147.4,58.5L148.2,58.2L149.1,57.9L150.0,57.6L150.8,57.3L151.7,57.0L152.6,56.7L153.4,56.4L154.3,56.1L155.1,55.9L156.0,55.6L156.9,55.3L157.7,55.0L158.6,54.7L159.4,54.4L160.3,54.0L161.2,53.7L162.0,53.4L162.9,53.1L163.7,52.8L164.6,52.5L165.4,52.2L166.3,51.9L167.2,51.6L168.0,51.3L168.9,51.0L169.7,50.6L170.6,50.3L171.4,50.0L172.3,49.7L173.2,49.4L174.0,49.1L174.9,48.8L175.7,48.5L176.6,48.1L177.4,47.8L178.3,47.5L179.1,47.2L180.0,46.9L180.8,46.5L181.7,46.2L182.5,45.9L183.4,45.5L184.2,45.2L185.1,44.9L185.9,44.5L186.8,44.2L187.6,43.8L188.4,43.5L189.3,43.2L190.1,42.8L191.0,42.5L191.8,42.1L192.7,41.8L193.5,41.4L194.3,41.1L195.2,40.7L196.0,40.4L196.9,40.0L197.7,39.7L198.5,39.3" stroke="#000" stroke-width="1.15" fill="none" stroke-linejoin="round" stroke-linecap="round"/>
<path d="M52.6,159.43C52.72,156.34 52.79,153.32 52.96,150.17C53.12,146.88 53.36,144.11 53.59,140.1C53.94,134.15 54.2,124.87 54.73,117.95C55.2,111.81 55.78,104.6 56.51,100.63C56.9,98.5 57.19,97.3 57.79,95.8C58.36,94.35 58.99,93.1 59.99,91.77C61.21,90.14 62.93,88.45 64.82,86.93C67,85.19 69.27,83.74 72.5,82.1C77.37,79.62 85.24,76.74 91.68,74.45C98.04,72.19 104.39,70.21 110.87,68.41C117.41,66.59 124.05,65.47 130.77,63.58C137.78,61.6 145.23,59.08 152.08,56.73C158.54,54.51 165.08,52.04 170.77,49.88C175.59,48.05 179.68,46.41 184.06,44.65C188.37,42.91 192.59,41.16 196.85,39.41" stroke="#000" stroke-width="1.15" fill="none" stroke-linejoin="round" stroke-linecap="round"/>
<path d="M52.6,39.61C52.67,40.89 52.71,42.26 52.81,43.44C52.91,44.45 52.95,45.24 53.17,46.26C53.43,47.49 53.75,49.01 54.38,50.28C55.03,51.63 56.06,52.96 57.08,54.11C58.08,55.24 59.18,56.19 60.42,57.13C61.75,58.15 63.21,58.97 64.82,59.95C66.71,61.1 68.9,62.45 71.08,63.58C73.34,64.74 75.86,65.83 78.18,66.8C80.35,67.7 82.37,68.49 84.58,69.21C86.87,69.97 89.41,70.6 91.68,71.23C93.78,71.8 95.71,72.3 97.72,72.84C99.74,73.38 101.69,73.93 103.76,74.45C105.95,75 108.36,75.31 110.51,76.06C112.62,76.8 114.51,77.8 116.55,78.88C118.77,80.05 121.07,81.51 123.3,82.91C125.57,84.33 127.93,85.82 130.06,87.34C132.06,88.77 133.9,90.38 135.74,91.77C137.44,93.05 139.07,94.13 140.71,95.39C142.39,96.68 143.94,98.16 145.69,99.42C147.49,100.71 149.56,101.81 151.37,103.04C153.11,104.23 154.73,105.45 156.35,106.67C157.93,107.86 159.47,108.94 160.97,110.29C162.56,111.74 164.03,113.44 165.59,115.13C167.23,116.92 168.86,118.6 170.56,120.77C172.63,123.42 174.99,127.02 176.96,130.03C178.76,132.78 180.23,135.33 181.93,138.08C183.71,140.97 185.47,144.15 187.4,146.94C189.26,149.64 191.24,151.96 193.3,154.6C195.52,157.45 197.94,160.5 200.26,163.46" stroke="#000" stroke-width="1.1" fill="none" stroke-linejoin="round" stroke-linecap="round"/>
<path d="M52.6,39.6L52.6,40.4L52.7,41.3L52.7,42.1L52.8,42.9L52.8,43.8L52.9,44.6L53.0,45.4L53.2,46.3L53.3,47.1L53.5,47.9L53.8,48.7L54.0,49.5L54.4,50.2L54.8,51.0L55.2,51.7L55.7,52.4L56.2,53.0L56.7,53.7L57.3,54.3L57.8,54.9L58.4,55.5L59.1,56.0L59.7,56.6L60.4,57.1L61.0,57.6L61.7,58.0L62.4,58.5L63.1,58.9L63.9,59.4L64.6,59.8L65.3,60.2L66.0,60.7L66.7,61.1L67.4,61.5L68.1,62.0L68.9,62.4L69.6,62.8L70.3,63.2L71.1,63.6L71.8,63.9L72.6,64.3L73.3,64.7L74.1,65.0L74.8,65.4L75.6,65.7L76.4,66.0L77.1,66.4L77.9,66.7L78.7,67.0L79.4,67.3L80.2,67.6L81.0,67.9L81.8,68.2L82.6,68.5L83.3,68.8L84.1,69.1L84.9,69.3L85.7,69.6L86.5,69.8L87.3,70.0L88.1,70.3L88.9,70.5L89.7,70.7L90.5,70.9L91.4,71.1L92.2,71.4L93.0,71.6L93.8,71.8L94.6,72.0L95.4,72.2L96.2,72.4L97.0,72.6L97.8,72.9L98.6,73.1L99.4,73.3L100.2,73.5L101.0,73.7L101.8,74.0L102.6,74.2L103.4,74.4L104.3,74.6L105.1,74.8L105.9,75.0L106.7,75.2L107.5,75.4L108.3,75.6L109.1,75.8L109.9,76.1L110.7,76.3L111.5,76.7L112.2,77.0L113.0,77.4L113.7,77.8L114.4,78.2L115.1,78.7L115.8,79.1L116.5,79.6L117.2,80.1L117.8,80.5L118.5,81.0L119.2,81.5L119.9,81.9L120.6,82.4L121.3,82.9L122.0,83.3L122.7,83.8L123.3,84.3L124.0,84.8L124.7,85.2L125.4,85.7L126.1,86.2L126.7,86.7L127.4,87.2L128.1,87.7L128.8,88.2L129.4,88.7L130.1,89.2L130.7,89.7L131.4,90.2L132.0,90.8L132.7,91.3L133.3,91.8L134.0,92.3L134.6,92.9L135.3,93.4L135.9,93.9L136.6,94.4L137.2,94.9L137.9,95.5L138.5,96.0L139.1,96.5L139.8,97.1L140.4,97.6L141.0,98.2L141.7,98.7L142.3,99.2L143.0,99.8L143.6,100.3L144.3,100.8L145.0,101.3L145.6,101.8L146.3,102.2L147.0,102.7L147.7,103.2L148.4,103.7L149.0,104.1L149.7,104.6L150.4,105.2L151.0,105.7L151.7,106.2L152.4,106.7L153.0,107.2L153.7,107.7L154.3,108.2L155.0,108.7L155.7,109.2L156.3,109.8L157.0,110.3L157.6,110.8L158.2,111.4L158.8,111.9L159.5,112.5L160.0,113.1L160.6,113.7L161.2,114.3L161.8,114.9L162.4,115.5L163.0,116.0L163.6,116.6L164.1,117.2L164.7,117.8L165.3,118.4L165.9,119.0L166.5,119.6L167.0,120.2L167.6,120.9L168.1,121.5L168.7,122.1L169.2,122.8L169.7,123.4L170.3,124.1L170.8,124.7L171.3,125.4L171.8,126.0L172.3,126.7L172.8,127.3L173.3,128.0L173.8,128.7L174.3,129.4L174.8,130.0L175.2,130.7L175.7,131.4L176.2,132.1L176.6,132.8L177.1,133.5L177.6,134.2L178.0,134.9L178.5,135.6L178.9,136.3L179.4,137.0L179.8,137.7L180.3,138.4L180.8,139.1L181.2,139.8L181.7,140.5L182.1,141.2L182.6,141.9L183.0,142.6L183.5,143.3L183.9,144.0L184.4,144.7L184.8,145.4L185.3,146.0L185.8,146.7L186.3,147.4L186.8,148.1L187.3,148.7L187.8,149.4L188.3,150.0L188.8,150.7L189.4,151.4L189.9,152.0L190.4,152.7L190.9,153.3L191.4,154.0L191.9,154.6L192.4,155.3L192.9,156.0L193.4,156.6L193.9,157.3L194.4,158.0L194.9,158.7L195.4,159.4L195.8,160.0L196.3,160.7L196.8,161.4L197.2,162.1L197.7,162.8L198.2,163.5" stroke="#000" stroke-width="1.1" fill="none" stroke-linejoin="round" stroke-linecap="round"/>
<path d="M52.6,39.6L52.6,40.4L52.7,41.3L52.7,42.1L52.8,42.9L52.8,43.7L52.9,44.6L53.0,45.4L53.2,46.2L53.3,47.0L53.5,47.8L53.7,48.6L54.0,49.4L54.3,50.2L54.7,50.9L55.1,51.6L55.6,52.3L56.1,53.0L56.6,53.6L57.2,54.2L57.8,54.8L58.3,55.4L59.0,56.0L59.6,56.5L60.3,57.0L60.9,57.5L61.6,58.0L62.3,58.4L63.0,58.8L63.7,59.3L64.4,59.7L65.1,60.1L65.8,60.6L66.5,61.0L67.3,61.4L68.0,61.8L68.7,62.3L69.4,62.7L70.1,63.1L70.9,63.5L71.6,63.8L72.3,64.2L73.1,64.6L73.8,64.9L74.6,65.3L75.4,65.6L76.1,65.9L76.9,66.2L77.6,66.6L78.4,66.9L79.2,67.2L79.9,67.5L80.7,67.8L81.5,68.1L82.3,68.4L83.0,68.7L83.8,69.0L84.6,69.2L85.4,69.5L86.2,69.7L87.0,69.9L87.8,70.2L88.6,70.4L89.4,70.6L90.2,70.8L91.0,71.0L91.8,71.3L92.6,71.5L93.4,71.7L94.2,71.9L95.0,72.1L95.8,72.3L96.6,72.5L97.4,72.7L98.2,73.0L99.0,73.2L99.8,73.4L100.6,73.6L101.4,73.9L102.2,74.1L103.0,74.3L103.8,74.5L104.6,74.7L105.4,74.9L106.2,75.1L107.0,75.3L107.8,75.5L108.6,75.8L109.4,76.0L110.1,76.3L110.9,76.6L111.7,77.0L112.4,77.4L113.1,77.8L113.8,78.3L114.4,78.8L115.1,79.2L115.8,79.7L116.4,80.2L117.1,80.7L117.7,81.2L118.4,81.7L119.0,82.2L119.7,82.7L120.4,83.2L121.0,83.7L121.7,84.2L122.4,84.7L123.0,85.2L123.7,85.6L124.4,86.1L125.0,86.6L125.7,87.1L126.4,87.6L127.0,88.1L127.7,88.6L128.3,89.1L129.0,89.7L129.6,90.2L130.3,90.7L130.9,91.2L131.5,91.8L132.2,92.3L132.8,92.8L133.4,93.4L134.1,93.9L134.7,94.4L135.3,95.0L135.9,95.5L136.5,96.1L137.2,96.6L137.8,97.2L138.4,97.7L139.0,98.3L139.6,98.8L140.3,99.4L140.9,99.9L141.5,100.4L142.2,101.0L142.8,101.5L143.5,102.0L144.1,102.5L144.8,103.0L145.4,103.5L146.1,104.0L146.8,104.5L147.4,105.0L148.1,105.5L148.7,106.0L149.4,106.5L150.0,107.0L150.7,107.6L151.3,108.1L151.9,108.6L152.6,109.1L153.2,109.6L153.9,110.1L154.5,110.7L155.2,111.2L155.8,111.7L156.4,112.3L157.0,112.8L157.6,113.4L158.2,114.0L158.8,114.5L159.4,115.1L160.0,115.7L160.6,116.3L161.2,116.8L161.8,117.4L162.4,118.0L163.0,118.6L163.6,119.1L164.2,119.7L164.8,120.3L165.4,120.9L165.9,121.5L166.5,122.1L167.0,122.7L167.6,123.3L168.1,123.9L168.7,124.6L169.2,125.2L169.7,125.8L170.3,126.5L170.8,127.1L171.3,127.7L171.8,128.4L172.4,129.0L172.9,129.7L173.4,130.3L173.9,131.0L174.4,131.7L174.8,132.3L175.3,133.0L175.8,133.7L176.3,134.4L176.7,135.0L177.2,135.7L177.7,136.4L178.1,137.1L178.6,137.8L179.1,138.5L179.5,139.1L180.0,139.8L180.5,140.5L180.9,141.2L181.4,141.9L181.9,142.6L182.3,143.3L182.8,143.9L183.2,144.6L183.7,145.3L184.2,146.0L184.7,146.7L185.2,147.3L185.7,148.0L186.2,148.6L186.7,149.3L187.2,149.9L187.8,150.6L188.3,151.2L188.8,151.9L189.3,152.5L189.8,153.2L190.3,153.8L190.8,154.5L191.3,155.2L191.8,155.8L192.3,156.5L192.7,157.2L193.2,157.9L193.6,158.6L194.1,159.3L194.5,160.0L195.0,160.7L195.4,161.4L195.8,162.1L196.3,162.8L196.7,163.5" stroke="#000" stroke-width="1.1" fill="none" stroke-linejoin="round" stroke-linecap="round"/>
<path d="M52.6,39.6L52.6,40.4L52.7,41.3L52.7,42.1L52.8,42.9L52.8,43.7L52.9,44.5L53.0,45.4L53.2,46.2L53.3,47.0L53.5,47.8L53.7,48.6L54.0,49.3L54.3,50.1L54.7,50.8L55.1,51.5L55.6,52.2L56.1,52.9L56.6,53.5L57.1,54.1L57.7,54.7L58.3,55.3L58.9,55.9L59.5,56.4L60.1,56.9L60.8,57.4L61.5,57.9L62.2,58.3L62.9,58.8L63.6,59.2L64.3,59.6L65.0,60.0L65.7,60.5L66.4,60.9L67.1,61.3L67.8,61.7L68.5,62.2L69.2,62.6L69.9,63.0L70.7,63.4L71.4,63.7L72.1,64.1L72.9,64.5L73.6,64.8L74.4,65.1L75.1,65.5L75.9,65.8L76.6,66.1L77.4,66.5L78.1,66.8L78.9,67.1L79.7,67.4L80.4,67.7L81.2,68.0L82.0,68.3L82.7,68.6L83.5,68.8L84.3,69.1L85.1,69.4L85.8,69.6L86.6,69.8L87.4,70.1L88.2,70.3L89.0,70.5L89.8,70.7L90.6,70.9L91.4,71.1L92.2,71.4L93.0,71.6L93.8,71.8L94.6,72.0L95.4,72.2L96.2,72.4L97.0,72.6L97.8,72.8L98.5,73.1L99.3,73.3L100.1,73.5L100.9,73.7L101.7,74.0L102.5,74.2L103.3,74.4L104.1,74.7L104.9,74.9L105.7,75.1L106.5,75.3L107.3,75.5L108.1,75.7L108.8,76.0L109.6,76.2L110.4,76.6L111.1,76.9L111.8,77.4L112.5,77.8L113.1,78.3L113.8,78.8L114.4,79.3L115.0,79.9L115.6,80.4L116.3,81.0L116.9,81.5L117.5,82.0L118.2,82.5L118.8,83.0L119.5,83.5L120.1,84.0L120.8,84.5L121.4,85.0L122.1,85.5L122.7,86.0L123.3,86.6L124.0,87.1L124.6,87.6L125.3,88.1L125.9,88.6L126.6,89.1L127.2,89.6L127.9,90.1L128.5,90.7L129.1,91.2L129.8,91.7L130.4,92.2L131.0,92.8L131.6,93.3L132.2,93.9L132.8,94.4L133.4,95.0L134.0,95.6L134.6,96.1L135.2,96.7L135.8,97.2L136.4,97.8L137.0,98.4L137.6,98.9L138.2,99.5L138.9,100.0L139.5,100.5L140.1,101.1L140.7,101.6L141.4,102.1L142.0,102.7L142.6,103.2L143.3,103.7L143.9,104.2L144.5,104.8L145.2,105.3L145.8,105.8L146.4,106.3L147.0,106.9L147.7,107.4L148.3,107.9L148.9,108.4L149.6,109.0L150.2,109.5L150.9,110.0L151.5,110.5L152.1,111.0L152.8,111.6L153.4,112.1L154.0,112.6L154.6,113.2L155.2,113.7L155.8,114.3L156.4,114.8L157.0,115.4L157.7,116.0L158.3,116.5L158.9,117.1L159.5,117.6L160.1,118.2L160.7,118.7L161.3,119.3L161.9,119.8L162.5,120.4L163.1,121.0L163.7,121.6L164.3,122.1L164.8,122.7L165.4,123.3L166.0,123.9L166.5,124.5L167.1,125.1L167.7,125.7L168.2,126.3L168.8,126.9L169.3,127.5L169.9,128.1L170.4,128.8L170.9,129.4L171.5,130.0L172.0,130.6L172.5,131.3L173.0,131.9L173.5,132.6L174.0,133.2L174.5,133.9L175.0,134.6L175.4,135.2L175.9,135.9L176.4,136.6L176.9,137.2L177.4,137.9L177.9,138.6L178.3,139.2L178.8,139.9L179.3,140.6L179.8,141.2L180.2,141.9L180.7,142.6L181.2,143.3L181.6,143.9L182.1,144.6L182.6,145.3L183.1,145.9L183.6,146.6L184.1,147.2L184.6,147.9L185.1,148.5L185.6,149.2L186.1,149.8L186.7,150.4L187.2,151.1L187.7,151.7L188.2,152.4L188.7,153.0L189.2,153.7L189.7,154.4L190.2,155.0L190.6,155.7L191.1,156.4L191.5,157.1L192.0,157.8L192.4,158.5L192.8,159.2L193.2,159.9L193.6,160.6L194.0,161.3L194.4,162.0L194.8,162.7L195.2,163.5" stroke="#000" stroke-width="1.1" fill="none" stroke-linejoin="round" stroke-linecap="round"/>
<path d="M52.6,39.61C52.67,40.89 52.71,42.26 52.81,43.44C52.91,44.45 52.95,45.24 53.17,46.26C53.43,47.49 53.75,49.01 54.38,50.28C55.03,51.63 56.06,52.96 57.08,54.11C58.08,55.24 59.18,56.19 60.42,57.13C61.75,58.15 63.21,58.97 64.82,59.95C66.71,61.1 68.9,62.45 71.08,63.58C73.34,64.74 75.86,65.83 78.18,66.8C80.35,67.7 82.37,68.49 84.58,69.21C86.87,69.97 89.41,70.6 91.68,71.23C93.78,71.8 95.71,72.27 97.72,72.84C99.74,73.41 101.7,74 103.76,74.65C105.96,75.34 108.43,75.69 110.51,76.87C112.72,78.12 114.48,80.33 116.55,82.1C118.73,83.96 121.05,85.86 123.3,87.74C125.55,89.62 127.94,91.45 130.06,93.38C132.07,95.22 133.89,97.27 135.74,99.02C137.43,100.61 139.06,101.97 140.71,103.45C142.37,104.92 143.97,106.38 145.69,107.88C147.51,109.46 149.55,111.12 151.37,112.71C153.1,114.21 154.72,115.7 156.35,117.14C157.91,118.52 159.44,119.78 160.97,121.17C162.52,122.59 164.04,124.04 165.59,125.6C167.23,127.25 168.83,128.83 170.56,130.83C172.66,133.27 175.16,136.65 177.17,139.29C178.9,141.57 180.27,143.57 181.93,145.74C183.67,148 185.87,150.52 187.4,152.58C188.6,154.2 189.47,155.36 190.46,157.01C191.61,158.93 192.68,161.31 193.8,163.46" stroke="#000" stroke-width="1.1" fill="none" stroke-linejoin="round" stroke-linecap="round"/>
<path d="M34.84,23.3H283.55V184.4H34.84Z" stroke="#6b6b6b" stroke-width="1.2" fill="none"/>
<path d="M31.23,184.4H34.84M32.44,164.26H34.84M31.23,144.12H34.84M32.44,123.99H34.84M31.23,103.85H34.84M32.44,83.71H34.84M31.23,63.58H34.84M32.44,43.44H34.84M31.23,23.3H34.84M34.84,184.4V186.8M52.6,184.4V188M70.37,184.4V186.8M88.13,184.4V188M105.9,184.4V186.8M123.66,184.4V188M141.43,184.4V186.8M159.19,184.4V188M176.96,184.4V186.8M194.72,184.4V188M212.48,184.4V186.8M230.25,184.4V188M248.01,184.4V186.8M265.78,184.4V188M283.55,184.4V186.8" stroke="#6b6b6b" stroke-width="1.2" fill="none"/>
<text x="26.4" y="188.4" font-size="11.5" text-anchor="end">1</text>
<text x="26.4" y="148.12" font-size="11.5" text-anchor="end">2</text>
<text x="26.4" y="107.85" font-size="11.5" text-anchor="end">3</text>
<text x="26.4" y="67.58" font-size="11.5" text-anchor="end">4</text>
<text x="26.4" y="27.3" font-size="11.5" text-anchor="end">5</text>
<text x="52.6" y="201.9" font-size="11.5" text-anchor="middle">0</text>
<text x="88.13" y="201.9" font-size="11.5" text-anchor="middle">50</text>
<text x="123.66" y="201.9" font-size="11.5" text-anchor="middle">100</text>
<text x="159.19" y="201.9" font-size="11.5" text-anchor="middle">150</text>
<text x="194.72" y="201.9" font-size="11.5" text-anchor="middle">200</text>
<text x="230.25" y="201.9" font-size="11.5" text-anchor="middle">250</text>
<text x="265.78" y="201.9" font-size="11.5" text-anchor="middle">300</text>
<text x="159.5" y="220.7" font-size="11.5" text-anchor="middle"><tspan>Specific capacity (mAh g</tspan><tspan dy="-4.49" dx="0.3" font-size="7.59">−1</tspan><tspan dy="4.49" dx="1.2">)</tspan></text>
<text transform="translate(9.2,105.85) rotate(-90)" font-size="11.5" text-anchor="middle">Voltage (V)</text>
<text x="158.1" y="15.3" font-size="11.5" text-anchor="middle"><tspan>LNF15, 1.5</tspan><tspan dx="0.9">–</tspan><tspan dx="0.9">4.6 V, 20 mA g</tspan><tspan dy="-4.49" dx="0.3" font-size="7.59">−1</tspan><tspan dy="4.49" dx="1.2">, RT</tspan></text>
<text x="-0.6" y="10.4" font-size="16.5" font-weight="bold">c</text>
<text x="38.3" y="176.3" font-size="11.5" text-anchor="start"><tspan>210 mAh g</tspan><tspan dy="-4.49" dx="0.3" font-size="7.59">−1</tspan><tspan dy="4.49" dx="1.2">, 681 Wh kg</tspan><tspan dy="-4.49" dx="0.3" font-size="7.59">−1</tspan></text>
<text x="197.8" y="36.9" font-size="11.5" text-anchor="middle">5</text>
<text x="206.4" y="36.9" font-size="11.5" text-anchor="middle">2</text>
<text x="238.4" y="36.9" font-size="11.5" text-anchor="middle">1</text>
<text x="194.3" y="176.8" font-size="11.5" text-anchor="middle">5</text>
<text x="204.1" y="176.8" font-size="11.5" text-anchor="middle">1</text>
<rect x="228.9" y="53.6" width="104.2" height="79.55" fill="#fff"/>
<path d="M228.9,121.47H333.1M228.9,109.83H333.1M228.9,98.2H333.1M228.9,86.56H333.1M228.9,74.93H333.1M228.9,63.3H333.1M252.34,53.6V133.15M273.19,53.6V133.15M294.02,53.6V133.15M314.87,53.6V133.15" stroke="#e9e9e9" stroke-width="0.8" fill="none"/>
<polyline points="231.5,78.81 236.72,96.65 241.93,99.36 247.13,100.14 252.34,101.3 257.56,101.69 262.76,102.46 267.98,102.85 273.19,102.85 278.39,103.63 283.61,104.02 288.81,102.85 294.02,104.02 299.24,104.4 304.44,105.18 309.65,105.57 314.87,105.95 320.07,106.73 325.29,106.34 330.5,106.73" stroke="#000" stroke-width="0.5" fill="none"/>
<polyline points="231.5,98.2 236.72,99.36 241.93,100.14 247.13,100.91 252.34,101.69 257.56,102.08 262.76,102.85 267.98,103.24 273.19,103.24 278.39,104.02 283.61,104.4 288.81,103.63 294.02,104.79 299.24,104.79 304.44,105.95 309.65,105.95 314.87,106.34 320.07,107.12 325.29,106.73 330.5,107.12" stroke="#000" stroke-width="0.75" fill="none"/>
<polygon points="231.5,75.85 228.85,80.62 234.16,80.62" fill="#fff" stroke="#000" stroke-width="0.9" stroke-linejoin="miter"/>
<polygon points="236.72,93.69 234.06,98.46 239.37,98.46" fill="#fff" stroke="#000" stroke-width="0.9" stroke-linejoin="miter"/>
<polygon points="241.93,96.4 239.28,101.17 244.58,101.17" fill="#fff" stroke="#000" stroke-width="0.9" stroke-linejoin="miter"/>
<polygon points="247.13,97.18 244.48,101.95 249.78,101.95" fill="#fff" stroke="#000" stroke-width="0.9" stroke-linejoin="miter"/>
<polygon points="252.34,98.34 249.69,103.11 255,103.11" fill="#fff" stroke="#000" stroke-width="0.9" stroke-linejoin="miter"/>
<polygon points="257.56,98.73 254.91,103.5 260.2,103.5" fill="#fff" stroke="#000" stroke-width="0.9" stroke-linejoin="miter"/>
<polygon points="262.76,99.51 260.12,104.28 265.41,104.28" fill="#fff" stroke="#000" stroke-width="0.9" stroke-linejoin="miter"/>
<polygon points="267.98,99.89 265.33,104.66 270.62,104.66" fill="#fff" stroke="#000" stroke-width="0.9" stroke-linejoin="miter"/>
<polygon points="273.19,99.89 270.54,104.66 275.83,104.66" fill="#fff" stroke="#000" stroke-width="0.9" stroke-linejoin="miter"/>
<polygon points="278.39,100.67 275.75,105.44 281.04,105.44" fill="#fff" stroke="#000" stroke-width="0.9" stroke-linejoin="miter"/>
<polygon points="283.61,101.06 280.96,105.83 286.25,105.83" fill="#fff" stroke="#000" stroke-width="0.9" stroke-linejoin="miter"/>
<polygon points="288.81,99.89 286.17,104.66 291.46,104.66" fill="#fff" stroke="#000" stroke-width="0.9" stroke-linejoin="miter"/>
<polygon points="294.02,101.06 291.38,105.83 296.67,105.83" fill="#fff" stroke="#000" stroke-width="0.9" stroke-linejoin="miter"/>
<polygon points="299.24,101.45 296.59,106.22 301.88,106.22" fill="#fff" stroke="#000" stroke-width="0.9" stroke-linejoin="miter"/>
<polygon points="304.44,102.22 301.8,106.99 307.09,106.99" fill="#fff" stroke="#000" stroke-width="0.9" stroke-linejoin="miter"/>
<polygon points="309.65,102.61 307,107.38 312.3,107.38" fill="#fff" stroke="#000" stroke-width="0.9" stroke-linejoin="miter"/>
<polygon points="314.87,103 312.22,107.77 317.51,107.77" fill="#fff" stroke="#000" stroke-width="0.9" stroke-linejoin="miter"/>
<polygon points="320.07,103.77 317.43,108.54 322.72,108.54" fill="#fff" stroke="#000" stroke-width="0.9" stroke-linejoin="miter"/>
<polygon points="325.29,103.38 322.64,108.15 327.94,108.15" fill="#fff" stroke="#000" stroke-width="0.9" stroke-linejoin="miter"/>
<polygon points="330.5,103.77 327.85,108.54 333.14,108.54" fill="#fff" stroke="#000" stroke-width="0.9" stroke-linejoin="miter"/>
<polygon points="231.5,95.24 228.85,100.01 234.16,100.01" fill="#000" stroke="#000" stroke-width="0.6" stroke-linejoin="miter"/>
<polygon points="236.72,96.4 234.06,101.17 239.37,101.17" fill="#000" stroke="#000" stroke-width="0.6" stroke-linejoin="miter"/>
<polygon points="241.93,97.18 239.28,101.95 244.58,101.95" fill="#000" stroke="#000" stroke-width="0.6" stroke-linejoin="miter"/>
<polygon points="247.13,97.96 244.48,102.73 249.78,102.73" fill="#000" stroke="#000" stroke-width="0.6" stroke-linejoin="miter"/>
<polygon points="252.34,98.73 249.69,103.5 255,103.5" fill="#000" stroke="#000" stroke-width="0.6" stroke-linejoin="miter"/>
<polygon points="257.56,99.12 254.91,103.89 260.2,103.89" fill="#000" stroke="#000" stroke-width="0.6" stroke-linejoin="miter"/>
<polygon points="262.76,99.89 260.12,104.66 265.41,104.66" fill="#000" stroke="#000" stroke-width="0.6" stroke-linejoin="miter"/>
<polygon points="267.98,100.28 265.33,105.05 270.62,105.05" fill="#000" stroke="#000" stroke-width="0.6" stroke-linejoin="miter"/>
<polygon points="273.19,100.28 270.54,105.05 275.83,105.05" fill="#000" stroke="#000" stroke-width="0.6" stroke-linejoin="miter"/>
<polygon points="278.39,101.06 275.75,105.83 281.04,105.83" fill="#000" stroke="#000" stroke-width="0.6" stroke-linejoin="miter"/>
<polygon points="283.61,101.45 280.96,106.22 286.25,106.22" fill="#000" stroke="#000" stroke-width="0.6" stroke-linejoin="miter"/>
<polygon points="288.81,100.67 286.17,105.44 291.46,105.44" fill="#000" stroke="#000" stroke-width="0.6" stroke-linejoin="miter"/>
<polygon points="294.02,101.83 291.38,106.6 296.67,106.6" fill="#000" stroke="#000" stroke-width="0.6" stroke-linejoin="miter"/>
<polygon points="299.24,101.83 296.59,106.6 301.88,106.6" fill="#000" stroke="#000" stroke-width="0.6" stroke-linejoin="miter"/>
<polygon points="304.44,103 301.8,107.77 307.09,107.77" fill="#000" stroke="#000" stroke-width="0.6" stroke-linejoin="miter"/>
<polygon points="309.65,103 307,107.77 312.3,107.77" fill="#000" stroke="#000" stroke-width="0.6" stroke-linejoin="miter"/>
<polygon points="314.87,103.38 312.22,108.15 317.51,108.15" fill="#000" stroke="#000" stroke-width="0.6" stroke-linejoin="miter"/>
<polygon points="320.07,104.16 317.43,108.93 322.72,108.93" fill="#000" stroke="#000" stroke-width="0.6" stroke-linejoin="miter"/>
<polygon points="325.29,103.77 322.64,108.54 327.94,108.54" fill="#000" stroke="#000" stroke-width="0.6" stroke-linejoin="miter"/>
<polygon points="330.5,104.16 327.85,108.93 333.14,108.93" fill="#000" stroke="#000" stroke-width="0.6" stroke-linejoin="miter"/>
<rect x="228.9" y="53.6" width="104.2" height="79.55" fill="none" stroke="#6b6b6b" stroke-width="1.1"/>
<path d="M227.1,133.1H228.9M227.7,127.28H228.9M227.1,121.47H228.9M227.7,115.65H228.9M227.1,109.83H228.9M227.7,104.02H228.9M227.1,98.2H228.9M227.7,92.38H228.9M227.1,86.56H228.9M227.7,80.75H228.9M227.1,74.93H228.9M227.7,69.11H228.9M227.1,63.3H228.9M227.7,57.48H228.9M231.5,133.15V134.65M241.93,133.15V134.65M252.34,133.15V134.65M262.76,133.15V134.65M273.19,133.15V134.65M283.61,133.15V134.65M294.02,133.15V134.65M304.44,133.15V134.65M314.87,133.15V134.65M325.29,133.15V134.65" stroke="#6b6b6b" stroke-width="0.9" fill="none"/>
<text x="224.2" y="135.9" font-size="8.4" text-anchor="end">120</text>
<text x="224.2" y="124.27" font-size="8.4" text-anchor="end">150</text>
<text x="224.2" y="112.63" font-size="8.4" text-anchor="end">180</text>
<text x="224.2" y="101" font-size="8.4" text-anchor="end">210</text>
<text x="224.2" y="89.36" font-size="8.4" text-anchor="end">240</text>
<text x="224.2" y="77.73" font-size="8.4" text-anchor="end">270</text>
<text x="224.2" y="66.1" font-size="8.4" text-anchor="end">300</text>
<text x="231.5" y="143.8" font-size="8.4" text-anchor="middle">1</text>
<text x="252.34" y="143.8" font-size="8.4" text-anchor="middle">5</text>
<text x="273.19" y="143.8" font-size="8.4" text-anchor="middle">9</text>
<text x="294.02" y="143.8" font-size="8.4" text-anchor="middle">13</text>
<text x="314.87" y="143.8" font-size="8.4" text-anchor="middle">17</text>
<rect x="255" y="147.5" width="55" height="14" fill="#fff"/>
<text x="281.8" y="157.4" font-size="8.4" text-anchor="middle">Cycle number</text>
<text x="0" y="0" font-size="8.2" text-anchor="middle" transform="translate(202.1,93.1) rotate(-90)"><tspan>Capacity (mAh g</tspan><tspan dy="-3.2" dx="0.3" font-size="5.41">−1</tspan><tspan dy="3.2" dx="1.2">)</tspan></text>
<path d="M267.1,64H280.3M267.1,76.4H280.3" stroke="#000" stroke-width="0.6"/>
<polygon points="273.7,59.58 270.1,66.06 277.3,66.06" fill="#fff" stroke="#000" stroke-width="0.9" stroke-linejoin="miter"/>
<polygon points="273.7,71.98 270.1,78.46 277.3,78.46" fill="#000" stroke="#000" stroke-width="0.6" stroke-linejoin="miter"/>
<text x="284.8" y="67.4" font-size="8.4">Charge</text>
<text x="284.8" y="79.8" font-size="8.4">Discharge</text></g>
<g transform="translate(351.8,244.7)"><path d="M52.6,23.3V184.4M70.37,23.3V184.4M88.13,23.3V184.4M105.9,23.3V184.4M123.66,23.3V184.4M141.43,23.3V184.4M159.19,23.3V184.4M176.96,23.3V184.4M194.72,23.3V184.4M212.48,23.3V184.4M230.25,23.3V184.4M248.01,23.3V184.4M265.78,23.3V184.4M34.84,164.26H283.55M34.84,144.12H283.55M34.84,123.99H283.55M34.84,103.85H283.55M34.84,83.71H283.55M34.84,63.58H283.55M34.84,43.44H283.55" stroke="#e9e9e9" stroke-width="1" fill="none"/>
<path d="M52.6,118.75C52.72,115.8 52.71,112.65 52.96,109.89C53.17,107.46 53.49,105.41 53.88,103.04C54.3,100.46 54.66,97.44 55.44,94.99C56.15,92.78 57.2,90.77 58.21,88.95C59.12,87.32 59.98,85.85 61.13,84.52C62.29,83.17 63.66,82.08 65.18,80.89C66.92,79.53 68.87,78.03 71.08,76.87C73.53,75.57 76.28,74.73 79.32,73.64C83.01,72.32 87.49,70.75 91.68,69.62C95.92,68.47 100.1,67.7 104.62,66.8C109.54,65.81 115.07,64.87 120.11,63.98C124.91,63.13 129.2,62.38 134.18,61.56C139.78,60.64 145.71,59.79 152.08,58.74C159.39,57.54 167.84,56 175.6,54.71C183.21,53.45 190.04,52.27 198.2,51.09C207.82,49.7 220.63,48.44 229.68,47.06C236.59,46.01 242.17,44.9 247.87,43.84C252.95,42.89 258.32,41.97 262.23,41.02C264.98,40.35 266.87,39.68 269.19,39.01" stroke="#000" stroke-width="1.0" fill="none" stroke-linejoin="round" stroke-linecap="round"/>
<path d="M52.6,162.65C53.31,158.62 53.64,153.9 54.73,150.57C55.57,148.02 56.77,146.38 57.93,144.12C59.23,141.58 60.8,138.68 62.19,136.07C63.52,133.59 64.81,131.12 66.1,128.82C67.29,126.7 68.51,125.02 69.65,122.78C71.01,120.14 72.35,116.81 73.56,113.92C74.71,111.18 75.69,108.34 76.76,105.86C77.7,103.69 78.63,101.75 79.6,99.82C80.52,98 81.35,96.29 82.45,94.59C83.59,92.8 84.9,91.01 86.35,89.35C87.85,87.65 89.58,85.95 91.33,84.52C93.02,83.14 94.61,82.01 96.66,80.89C99.11,79.55 102.12,78.46 105.18,77.27C108.68,75.91 112.32,74.59 116.55,73.24C121.79,71.57 128.34,69.93 134.32,68.21C140.42,66.44 146.29,64.79 152.79,62.77C160.16,60.48 168.53,57.5 176.24,55.12C183.68,52.82 190.48,51.13 198.27,48.67C207.22,45.86 217.36,42.23 226.91,39.01" stroke="#000" stroke-width="1.05" fill="none" stroke-linejoin="round" stroke-linecap="round"/>
<path d="M52.6,162.7L52.7,161.7L52.8,160.7L52.9,159.8L53.0,158.8L53.1,157.9L53.2,156.9L53.3,156.0L53.4,155.0L53.6,154.1L53.7,153.1L53.9,152.2L54.1,151.2L54.3,150.3L54.6,149.4L54.9,148.5L55.3,147.6L55.7,146.7L56.1,145.9L56.5,145.0L56.9,144.2L57.3,143.3L57.8,142.4L58.2,141.6L58.6,140.7L59.1,139.9L59.5,139.0L60.0,138.2L60.4,137.3L60.8,136.5L61.3,135.6L61.7,134.8L62.2,133.9L62.6,133.0L63.0,132.2L63.5,131.3L63.9,130.5L64.4,129.6L64.8,128.8L65.3,127.9L65.8,127.1L66.2,126.3L66.7,125.5L67.2,124.6L67.7,123.8L68.1,122.9L68.5,122.1L68.9,121.2L69.3,120.3L69.7,119.5L70.1,118.6L70.5,117.7L70.9,116.8L71.3,115.9L71.6,115.0L72.0,114.2L72.4,113.3L72.7,112.4L73.1,111.5L73.4,110.6L73.8,109.7L74.1,108.8L74.5,107.9L74.8,107.0L75.2,106.1L75.6,105.2L76.0,104.4L76.4,103.5L76.8,102.6L77.2,101.8L77.6,100.9L78.0,100.0L78.5,99.2L78.9,98.3L79.3,97.5L79.8,96.6L80.2,95.8L80.7,95.0L81.3,94.2L81.8,93.4L82.3,92.6L82.9,91.8L83.5,91.0L84.1,90.3L84.7,89.6L85.3,88.8L86.0,88.1L86.7,87.4L87.3,86.8L88.0,86.1L88.8,85.5L89.5,84.8L90.2,84.2L91.0,83.6L91.8,83.1L92.6,82.5L93.4,82.0L94.2,81.5L95.0,81.1L95.9,80.6L96.7,80.2L97.6,79.8L98.5,79.4L99.4,79.0L100.3,78.7L101.2,78.3L102.1,78.0L103.0,77.6L103.8,77.3L104.7,76.9L105.6,76.6L106.5,76.3L107.4,75.9L108.3,75.6L109.2,75.3L110.1,74.9L111.1,74.6L112.0,74.3L112.9,74.0L113.8,73.7L114.7,73.4L115.6,73.1L116.5,72.8L117.4,72.6L118.4,72.3L119.3,72.0L120.2,71.8L121.1,71.5L122.1,71.2L123.0,71.0L123.9,70.7L124.8,70.5L125.8,70.2L126.7,70.0L127.6,69.7L128.5,69.5L129.5,69.2L130.4,68.9L131.3,68.7L132.2,68.4L133.2,68.2L134.1,67.9L135.0,67.6L135.9,67.4L136.9,67.1L137.8,66.8L138.7,66.6L139.6,66.3L140.5,66.1L141.5,65.8L142.4,65.5L143.3,65.3L144.2,65.0L145.2,64.7L146.1,64.5L147.0,64.2L147.9,63.9L148.8,63.7L149.8,63.4L150.7,63.1L151.6,62.8L152.5,62.6L153.4,62.3L154.4,62.0L155.3,61.7L156.2,61.4L157.1,61.1L158.0,60.8L158.9,60.5L159.8,60.2L160.7,59.9L161.7,59.6L162.6,59.3L163.5,59.0L164.4,58.7L165.3,58.4L166.2,58.1L167.1,57.8L168.0,57.5L169.0,57.2L169.9,56.9L170.8,56.6L171.7,56.3L172.6,56.0L173.5,55.7L174.4,55.4L175.3,55.2L176.3,54.9L177.2,54.6L178.1,54.3L179.0,54.0L179.9,53.7L180.8,53.5L181.8,53.2L182.7,52.9L183.6,52.6L184.5,52.3L185.4,52.1L186.4,51.8L187.3,51.5L188.2,51.2L189.1,50.9L190.0,50.6L190.9,50.4L191.9,50.1L192.8,49.8L193.7,49.5L194.6,49.2L195.5,48.9L196.4,48.6L197.3,48.3L198.2,48.0L199.2,47.7L200.1,47.4L201.0,47.0L201.9,46.7L202.8,46.4L203.7,46.1L204.6,45.8L205.5,45.5L206.4,45.1L207.3,44.8L208.2,44.5L209.1,44.2L210.0,43.9L210.9,43.5L211.8,43.2L212.7,42.9L213.6,42.6L214.5,42.2L215.4,41.9L216.3,41.6L217.2,41.3L218.2,40.9L219.1,40.6L220.0,40.3L220.9,40.0L221.8,39.6L222.7,39.3L223.6,39.0" stroke="#000" stroke-width="1.05" fill="none" stroke-linejoin="round" stroke-linecap="round"/>
<path d="M52.6,162.7L52.7,161.7L52.8,160.8L52.9,159.8L52.9,158.9L53.0,157.9L53.1,157.0L53.2,156.0L53.2,155.1L53.3,154.1L53.4,153.2L53.6,152.2L53.8,151.3L54.0,150.4L54.2,149.4L54.5,148.5L54.8,147.6L55.1,146.7L55.5,145.9L55.9,145.0L56.3,144.1L56.7,143.2L57.1,142.4L57.5,141.5L57.9,140.7L58.3,139.8L58.8,139.0L59.2,138.1L59.6,137.3L60.1,136.4L60.5,135.6L60.9,134.7L61.3,133.9L61.8,133.0L62.2,132.2L62.6,131.3L63.0,130.5L63.5,129.6L63.9,128.8L64.4,127.9L64.8,127.1L65.3,126.3L65.8,125.4L66.2,124.6L66.7,123.7L67.1,122.9L67.5,122.0L67.9,121.2L68.3,120.3L68.7,119.4L69.1,118.6L69.5,117.7L69.8,116.8L70.2,115.9L70.6,115.1L71.0,114.2L71.3,113.3L71.7,112.4L72.0,111.5L72.4,110.6L72.7,109.7L73.1,108.9L73.4,108.0L73.8,107.1L74.1,106.2L74.5,105.3L74.9,104.5L75.3,103.6L75.7,102.7L76.1,101.9L76.5,101.0L76.9,100.2L77.4,99.3L77.8,98.5L78.2,97.6L78.7,96.8L79.1,95.9L79.6,95.1L80.1,94.3L80.7,93.5L81.2,92.7L81.8,92.0L82.3,91.2L82.9,90.4L83.5,89.7L84.2,89.0L84.8,88.3L85.5,87.6L86.1,86.9L86.8,86.3L87.5,85.6L88.3,85.0L89.0,84.4L89.7,83.8L90.5,83.3L91.3,82.7L92.1,82.2L92.9,81.7L93.8,81.3L94.6,80.8L95.5,80.4L96.3,80.0L97.2,79.6L98.1,79.2L98.9,78.8L99.8,78.5L100.7,78.1L101.6,77.8L102.5,77.5L103.4,77.1L104.3,76.8L105.2,76.4L106.1,76.1L107.0,75.8L107.9,75.4L108.7,75.1L109.6,74.8L110.5,74.5L111.5,74.2L112.4,73.9L113.3,73.6L114.2,73.3L115.1,73.0L116.0,72.7L116.9,72.5L117.8,72.2L118.7,71.9L119.6,71.7L120.6,71.4L121.5,71.1L122.4,70.9L123.3,70.6L124.2,70.4L125.2,70.1L126.1,69.9L127.0,69.6L127.9,69.4L128.8,69.1L129.8,68.9L130.7,68.6L131.6,68.3L132.5,68.1L133.4,67.8L134.3,67.6L135.3,67.3L136.2,67.1L137.1,66.8L138.0,66.5L138.9,66.3L139.9,66.0L140.8,65.8L141.7,65.5L142.6,65.3L143.5,65.0L144.4,64.7L145.4,64.5L146.3,64.2L147.2,63.9L148.1,63.7L149.0,63.4L149.9,63.1L150.8,62.9L151.8,62.6L152.7,62.3L153.6,62.0L154.5,61.7L155.4,61.5L156.3,61.2L157.2,60.9L158.1,60.6L159.0,60.3L159.9,60.0L160.8,59.7L161.8,59.4L162.7,59.1L163.6,58.8L164.5,58.5L165.4,58.2L166.3,57.9L167.2,57.6L168.1,57.3L169.0,57.0L169.9,56.7L170.8,56.4L171.7,56.1L172.6,55.8L173.5,55.5L174.4,55.3L175.3,55.0L176.2,54.7L177.2,54.4L178.1,54.1L179.0,53.8L179.9,53.5L180.8,53.2L181.7,52.9L182.6,52.6L183.5,52.3L184.4,52.1L185.3,51.8L186.2,51.5L187.1,51.2L188.0,50.9L189.0,50.6L189.9,50.3L190.8,50.0L191.7,49.7L192.6,49.4L193.5,49.1L194.4,48.8L195.3,48.5L196.2,48.1L197.1,47.8L198.0,47.5L198.9,47.2L199.8,46.9L200.7,46.6L201.6,46.2L202.5,45.9L203.4,45.6L204.3,45.3L205.2,44.9L206.0,44.6L206.9,44.3L207.8,43.9L208.7,43.6L209.6,43.3L210.5,43.0L211.4,42.6L212.3,42.3L213.2,42.0L214.1,41.6L215.0,41.3L215.9,41.0L216.8,40.6L217.7,40.3L218.6,40.0L219.5,39.7L220.4,39.3L221.3,39.0" stroke="#000" stroke-width="1.05" fill="none" stroke-linejoin="round" stroke-linecap="round"/>
<path d="M52.6,162.65C52.96,158.62 52.97,153.94 53.67,150.57C54.19,148.05 54.89,146.36 55.8,144.12C56.84,141.56 58.43,138.68 59.71,136.07C60.92,133.59 62.09,131.12 63.26,128.82C64.34,126.71 65.38,125.01 66.46,122.78C67.74,120.13 69.15,116.81 70.37,113.92C71.51,111.18 72.49,108.34 73.56,105.86C74.5,103.69 75.43,101.75 76.41,99.82C77.33,98 78.16,96.29 79.25,94.59C80.39,92.8 81.7,91.01 83.16,89.35C84.65,87.65 86.34,85.93 88.13,84.52C89.9,83.12 91.68,82.02 93.81,80.89C96.32,79.57 99.28,78.46 102.34,77.27C105.84,75.91 109.44,74.6 113.71,73.24C119.1,71.52 125.91,69.78 132.19,68.01C138.7,66.16 145.2,64.46 152.08,62.37C159.62,60.07 168.18,57.17 175.6,54.71C182.31,52.49 187.94,50.67 194.72,48.27C202.5,45.51 211.35,42.1 219.66,39.01" stroke="#000" stroke-width="1.05" fill="none" stroke-linejoin="round" stroke-linecap="round"/>
<path d="M52.6,40.82C52.67,41.69 52.69,42.55 52.81,43.44C52.94,44.36 53.06,45.28 53.38,46.26C53.76,47.41 54.26,48.69 55.09,49.88C56.09,51.32 57.81,52.81 59.21,54.11C60.54,55.35 61.75,56.47 63.26,57.53C64.92,58.7 66.99,59.73 68.8,60.76C70.54,61.74 72.1,62.65 73.92,63.58C75.93,64.6 77.9,65.54 80.38,66.6C83.65,67.99 88.43,69.86 91.9,71.03C94.67,71.96 96.95,72.51 99.5,73.24C102.09,73.98 104.62,74.58 107.32,75.46C110.29,76.43 113.76,77.65 116.55,78.88C119,79.95 120.99,80.93 123.23,82.3C125.73,83.83 128.29,85.89 130.77,87.74C133.24,89.58 135.61,91.79 138.09,93.38C140.36,94.83 142.55,95.95 144.98,97C147.51,98.11 150.19,98.92 153.01,99.82C156.08,100.81 159.5,101.52 162.74,102.64C166.09,103.8 170.12,105.02 172.76,106.67C174.83,107.96 176.02,109.5 177.67,111.1C179.45,112.84 181.31,114.56 183.07,116.74C185.12,119.28 186.94,122.64 189.04,125.6C191.22,128.68 193.52,131.94 195.93,134.86C198.26,137.7 200.68,140.36 203.25,142.92C205.8,145.46 208.57,147.76 211.28,150.17C214.01,152.59 216.66,155.1 219.59,157.42C222.62,159.81 225.99,161.98 229.18,164.26" stroke="#000" stroke-width="1.1" fill="none" stroke-linejoin="round" stroke-linecap="round"/>
<path d="M52.6,40.8L52.7,41.7L52.7,42.6L52.8,43.5L53.0,44.4L53.1,45.3L53.4,46.2L53.6,47.0L54.0,47.8L54.4,48.7L54.8,49.4L55.3,50.2L55.9,50.9L56.5,51.5L57.1,52.2L57.8,52.8L58.5,53.4L59.1,54.0L59.8,54.6L60.4,55.2L61.1,55.8L61.8,56.4L62.5,57.0L63.2,57.5L64.0,58.0L64.8,58.5L65.5,58.9L66.3,59.4L67.1,59.8L67.9,60.3L68.7,60.7L69.5,61.1L70.2,61.6L71.0,62.0L71.8,62.4L72.6,62.9L73.4,63.3L74.2,63.7L75.0,64.1L75.8,64.5L76.6,64.9L77.4,65.3L78.3,65.7L79.1,66.0L79.9,66.4L80.7,66.7L81.6,67.1L82.4,67.4L83.2,67.8L84.1,68.1L84.9,68.4L85.8,68.8L86.6,69.1L87.4,69.4L88.3,69.7L89.1,70.0L90.0,70.3L90.8,70.6L91.7,70.9L92.5,71.2L93.4,71.5L94.3,71.7L95.1,72.0L96.0,72.2L96.8,72.5L97.7,72.7L98.6,73.0L99.5,73.2L100.3,73.4L101.2,73.7L102.1,73.9L102.9,74.2L103.8,74.4L104.6,74.7L105.5,75.0L106.4,75.3L107.2,75.6L108.1,75.9L108.9,76.2L109.7,76.5L110.6,76.8L111.4,77.2L112.2,77.5L113.1,77.9L113.9,78.2L114.7,78.6L115.5,79.0L116.3,79.4L117.1,79.8L117.9,80.3L118.7,80.7L119.5,81.2L120.2,81.7L121.0,82.2L121.7,82.7L122.4,83.2L123.1,83.8L123.8,84.3L124.5,84.9L125.2,85.5L125.9,86.1L126.6,86.7L127.3,87.2L127.9,87.8L128.6,88.4L129.3,89.0L129.9,89.6L130.6,90.2L131.3,90.8L132.0,91.4L132.7,92.0L133.4,92.5L134.1,93.1L134.8,93.6L135.6,94.1L136.3,94.6L137.1,95.1L137.8,95.6L138.6,96.0L139.3,96.5L140.1,96.9L140.9,97.4L141.7,97.8L142.5,98.2L143.3,98.6L144.1,98.9L144.9,99.3L145.7,99.7L146.6,100.0L147.4,100.4L148.2,100.7L149.0,101.1L149.9,101.4L150.7,101.7L151.5,102.1L152.4,102.4L153.2,102.7L154.0,103.0L154.9,103.3L155.7,103.6L156.5,104.0L157.4,104.3L158.2,104.6L159.0,105.0L159.9,105.3L160.7,105.6L161.5,106.0L162.4,106.4L163.2,106.7L164.0,107.1L164.8,107.5L165.6,107.9L166.4,108.4L167.1,108.9L167.9,109.4L168.6,110.0L169.2,110.5L169.9,111.1L170.6,111.8L171.2,112.4L171.9,113.0L172.6,113.6L173.2,114.2L173.9,114.8L174.5,115.4L175.1,116.1L175.8,116.7L176.4,117.4L177.0,118.1L177.6,118.7L178.1,119.4L178.7,120.2L179.2,120.9L179.7,121.6L180.3,122.3L180.8,123.1L181.3,123.8L181.8,124.5L182.3,125.3L182.9,126.0L183.4,126.7L183.9,127.5L184.5,128.2L185.0,128.9L185.5,129.6L186.1,130.4L186.6,131.1L187.2,131.8L187.7,132.5L188.3,133.2L188.9,133.9L189.4,134.6L190.0,135.3L190.6,136.0L191.2,136.6L191.8,137.3L192.4,138.0L193.0,138.7L193.6,139.3L194.2,140.0L194.8,140.6L195.4,141.3L196.1,141.9L196.7,142.6L197.4,143.2L198.0,143.8L198.7,144.4L199.3,145.0L200.0,145.6L200.7,146.2L201.4,146.8L202.0,147.4L202.7,148.0L203.4,148.6L204.1,149.2L204.7,149.8L205.4,150.4L206.1,151.0L206.7,151.6L207.4,152.2L208.1,152.8L208.7,153.4L209.4,154.0L210.1,154.6L210.7,155.2L211.4,155.8L212.1,156.4L212.8,157.0L213.5,157.6L214.1,158.2L214.8,158.8L215.5,159.3L216.2,159.9L216.9,160.5L217.6,161.1L218.3,161.6L218.9,162.2L219.6,162.8L220.3,163.4L221.0,163.9" stroke="#000" stroke-width="1.1" fill="none" stroke-linejoin="round" stroke-linecap="round"/>
<path d="M52.6,40.8L52.7,41.7L52.7,42.6L52.8,43.5L52.9,44.3L53.1,45.2L53.3,46.1L53.6,46.9L53.9,47.7L54.3,48.5L54.7,49.3L55.2,50.0L55.8,50.7L56.3,51.4L57.0,52.0L57.6,52.6L58.2,53.2L58.9,53.8L59.5,54.4L60.2,55.0L60.9,55.6L61.5,56.2L62.2,56.7L62.9,57.3L63.6,57.8L64.4,58.2L65.1,58.7L65.9,59.1L66.7,59.6L67.4,60.0L68.2,60.4L69.0,60.9L69.8,61.3L70.5,61.7L71.3,62.2L72.1,62.6L72.8,63.0L73.6,63.4L74.4,63.8L75.2,64.2L76.0,64.6L76.8,65.0L77.6,65.3L78.4,65.7L79.2,66.1L80.0,66.4L80.8,66.8L81.6,67.1L82.5,67.5L83.3,67.8L84.1,68.1L84.9,68.4L85.7,68.8L86.6,69.1L87.4,69.4L88.2,69.7L89.0,70.0L89.9,70.3L90.7,70.6L91.5,70.9L92.4,71.1L93.2,71.4L94.1,71.7L94.9,71.9L95.8,72.2L96.6,72.4L97.5,72.7L98.3,72.9L99.2,73.1L100.0,73.4L100.9,73.6L101.7,73.9L102.6,74.1L103.4,74.4L104.2,74.7L105.1,74.9L105.9,75.2L106.7,75.5L107.6,75.8L108.4,76.1L109.2,76.5L110.0,76.8L110.8,77.2L111.6,77.5L112.4,77.9L113.2,78.3L114.0,78.7L114.8,79.1L115.6,79.5L116.4,79.9L117.1,80.4L117.9,80.8L118.6,81.3L119.3,81.8L120.0,82.4L120.7,82.9L121.4,83.5L122.1,84.0L122.8,84.6L123.4,85.2L124.1,85.8L124.7,86.4L125.3,87.0L126.0,87.6L126.6,88.2L127.3,88.8L127.9,89.4L128.5,90.0L129.2,90.6L129.9,91.2L130.5,91.8L131.2,92.3L131.9,92.9L132.6,93.4L133.3,94.0L134.0,94.5L134.7,95.0L135.4,95.5L136.1,96.0L136.9,96.5L137.6,97.0L138.4,97.4L139.1,97.9L139.9,98.3L140.6,98.7L141.4,99.2L142.2,99.6L142.9,100.0L143.7,100.4L144.5,100.8L145.3,101.2L146.1,101.5L146.9,101.9L147.7,102.3L148.5,102.6L149.3,103.0L150.1,103.3L150.9,103.7L151.7,104.0L152.5,104.4L153.3,104.7L154.1,105.1L154.9,105.4L155.7,105.8L156.5,106.2L157.3,106.5L158.1,106.9L158.9,107.3L159.7,107.6L160.5,108.0L161.3,108.4L162.1,108.8L162.8,109.3L163.6,109.8L164.3,110.3L165.0,110.8L165.7,111.4L166.4,111.9L167.0,112.5L167.7,113.1L168.4,113.7L169.0,114.2L169.7,114.8L170.3,115.4L171.0,116.0L171.6,116.7L172.2,117.3L172.8,117.9L173.4,118.6L174.0,119.2L174.6,119.9L175.2,120.5L175.7,121.2L176.3,121.9L176.8,122.6L177.3,123.3L177.9,124.0L178.4,124.7L178.9,125.5L179.4,126.2L180.0,126.9L180.5,127.6L181.0,128.3L181.5,129.0L182.1,129.7L182.6,130.4L183.1,131.1L183.7,131.8L184.3,132.5L184.8,133.2L185.4,133.8L185.9,134.5L186.5,135.2L187.1,135.9L187.7,136.5L188.3,137.2L188.8,137.9L189.4,138.5L190.0,139.2L190.6,139.8L191.2,140.4L191.9,141.1L192.5,141.7L193.1,142.3L193.7,143.0L194.4,143.6L195.0,144.2L195.7,144.8L196.3,145.3L197.0,145.9L197.7,146.5L198.3,147.1L199.0,147.7L199.6,148.3L200.3,148.8L201.0,149.4L201.6,150.0L202.3,150.6L202.9,151.2L203.6,151.8L204.2,152.4L204.9,153.0L205.5,153.6L206.2,154.2L206.8,154.8L207.5,155.4L208.1,156.0L208.8,156.6L209.4,157.2L210.1,157.8L210.7,158.4L211.4,159.0L212.0,159.6L212.6,160.2L213.3,160.8L213.9,161.4L214.6,162.0L215.2,162.6L215.9,163.2L216.5,163.8" stroke="#000" stroke-width="1.1" fill="none" stroke-linejoin="round" stroke-linecap="round"/>
<path d="M52.6,40.8L52.7,41.7L52.7,42.5L52.8,43.4L52.9,44.3L53.1,45.1L53.3,46.0L53.6,46.8L53.9,47.6L54.2,48.4L54.6,49.2L55.1,49.9L55.6,50.6L56.2,51.2L56.8,51.8L57.4,52.5L58.1,53.0L58.7,53.6L59.3,54.2L60.0,54.8L60.6,55.4L61.3,56.0L61.9,56.5L62.6,57.0L63.3,57.6L64.0,58.0L64.8,58.5L65.5,58.9L66.3,59.4L67.0,59.8L67.8,60.2L68.6,60.6L69.3,61.0L70.1,61.5L70.8,61.9L71.6,62.3L72.3,62.7L73.1,63.1L73.9,63.5L74.6,63.9L75.4,64.3L76.2,64.7L77.0,65.1L77.8,65.4L78.6,65.8L79.4,66.1L80.2,66.5L80.9,66.8L81.7,67.2L82.6,67.5L83.4,67.8L84.2,68.1L85.0,68.5L85.8,68.8L86.6,69.1L87.4,69.4L88.2,69.7L89.0,70.0L89.8,70.3L90.7,70.6L91.5,70.9L92.3,71.1L93.1,71.4L93.9,71.7L94.8,71.9L95.6,72.1L96.5,72.4L97.3,72.6L98.1,72.8L99.0,73.1L99.8,73.3L100.6,73.6L101.4,73.8L102.3,74.1L103.1,74.3L103.9,74.6L104.7,74.9L105.6,75.2L106.4,75.5L107.2,75.8L108.0,76.1L108.8,76.5L109.6,76.9L110.3,77.2L111.1,77.6L111.9,78.0L112.7,78.4L113.4,78.8L114.2,79.2L115.0,79.6L115.7,80.1L116.4,80.5L117.1,81.0L117.9,81.5L118.5,82.1L119.2,82.6L119.9,83.2L120.5,83.8L121.1,84.3L121.8,84.9L122.4,85.5L123.0,86.2L123.6,86.8L124.2,87.4L124.8,88.0L125.4,88.6L126.1,89.2L126.7,89.8L127.3,90.4L127.9,91.0L128.6,91.6L129.2,92.2L129.9,92.7L130.5,93.3L131.2,93.8L131.9,94.4L132.6,94.9L133.2,95.5L133.9,96.0L134.6,96.5L135.3,97.0L136.0,97.5L136.8,98.0L137.5,98.4L138.2,98.9L138.9,99.4L139.7,99.8L140.4,100.3L141.1,100.7L141.9,101.1L142.6,101.5L143.4,102.0L144.2,102.4L144.9,102.8L145.7,103.2L146.5,103.6L147.2,103.9L148.0,104.3L148.8,104.7L149.6,105.1L150.3,105.4L151.1,105.8L151.9,106.2L152.7,106.6L153.5,106.9L154.2,107.3L155.0,107.7L155.8,108.1L156.6,108.5L157.3,108.9L158.1,109.3L158.9,109.7L159.6,110.1L160.4,110.6L161.1,111.1L161.8,111.6L162.5,112.1L163.2,112.6L163.8,113.2L164.5,113.7L165.2,114.3L165.8,114.9L166.5,115.4L167.1,116.0L167.7,116.6L168.4,117.2L169.0,117.8L169.6,118.4L170.2,119.0L170.8,119.6L171.4,120.3L172.0,120.9L172.6,121.6L173.1,122.2L173.7,122.9L174.2,123.6L174.7,124.2L175.3,124.9L175.8,125.6L176.3,126.3L176.8,127.0L177.4,127.7L177.9,128.4L178.4,129.1L178.9,129.8L179.5,130.5L180.0,131.1L180.5,131.8L181.1,132.5L181.7,133.2L182.2,133.8L182.8,134.5L183.3,135.1L183.9,135.8L184.5,136.4L185.0,137.1L185.6,137.7L186.2,138.4L186.8,139.0L187.4,139.7L188.0,140.3L188.6,140.9L189.2,141.5L189.8,142.1L190.4,142.7L191.1,143.3L191.7,143.9L192.3,144.5L193.0,145.1L193.6,145.7L194.3,146.2L194.9,146.8L195.6,147.4L196.2,148.0L196.9,148.5L197.5,149.1L198.2,149.7L198.8,150.3L199.5,150.9L200.1,151.5L200.7,152.0L201.3,152.6L202.0,153.2L202.6,153.8L203.2,154.4L203.9,155.0L204.5,155.6L205.1,156.2L205.7,156.8L206.4,157.4L207.0,158.0L207.6,158.7L208.2,159.3L208.8,159.9L209.4,160.5L210.0,161.1L210.6,161.7L211.2,162.4L211.8,163.0L212.4,163.6" stroke="#000" stroke-width="1.1" fill="none" stroke-linejoin="round" stroke-linecap="round"/>
<path d="M52.6,40.82C52.67,41.69 52.69,42.55 52.81,43.44C52.94,44.36 53.06,45.28 53.38,46.26C53.76,47.41 54.26,48.69 55.09,49.88C56.09,51.32 57.81,52.81 59.21,54.11C60.54,55.35 61.75,56.47 63.26,57.53C64.92,58.7 66.99,59.73 68.8,60.76C70.54,61.74 72.1,62.65 73.92,63.58C75.93,64.6 77.9,65.54 80.38,66.6C83.65,67.99 88.43,69.86 91.9,71.03C94.67,71.96 96.96,72.41 99.5,73.24C102.1,74.09 104.66,74.84 107.32,76.06C110.32,77.44 113.55,79.02 116.55,81.3C120.04,83.94 123.52,88.44 126.72,91.36C129.38,93.81 131.71,95.84 134.32,97.81C136.85,99.72 139.31,101.35 142.14,103.04C145.26,104.92 149.43,106.93 152.3,108.48C154.41,109.63 156.04,110.38 157.77,111.5C159.47,112.6 160.87,113.67 162.6,115.13C164.82,117 167.46,119.38 169.85,121.97C172.56,124.92 175.13,128.79 177.88,132.04C180.58,135.24 183.23,138.32 186.19,141.31C189.24,144.37 193.02,147.42 195.93,150.17C198.37,152.46 200.4,154.39 202.54,156.61C204.67,158.83 206.66,161.17 208.72,163.46" stroke="#000" stroke-width="1.1" fill="none" stroke-linejoin="round" stroke-linecap="round"/>
<path d="M34.84,23.3H283.55V184.4H34.84Z" stroke="#6b6b6b" stroke-width="1.2" fill="none"/>
<path d="M31.23,184.4H34.84M32.44,164.26H34.84M31.23,144.12H34.84M32.44,123.99H34.84M31.23,103.85H34.84M32.44,83.71H34.84M31.23,63.58H34.84M32.44,43.44H34.84M31.23,23.3H34.84M34.84,184.4V186.8M52.6,184.4V188M70.37,184.4V186.8M88.13,184.4V188M105.9,184.4V186.8M123.66,184.4V188M141.43,184.4V186.8M159.19,184.4V188M176.96,184.4V186.8M194.72,184.4V188M212.48,184.4V186.8M230.25,184.4V188M248.01,184.4V186.8M265.78,184.4V188M283.55,184.4V186.8" stroke="#6b6b6b" stroke-width="1.2" fill="none"/>
<text x="26.4" y="188.4" font-size="11.5" text-anchor="end">1</text>
<text x="26.4" y="148.12" font-size="11.5" text-anchor="end">2</text>
<text x="26.4" y="107.85" font-size="11.5" text-anchor="end">3</text>
<text x="26.4" y="67.58" font-size="11.5" text-anchor="end">4</text>
<text x="26.4" y="27.3" font-size="11.5" text-anchor="end">5</text>
<text x="52.6" y="201.9" font-size="11.5" text-anchor="middle">0</text>
<text x="88.13" y="201.9" font-size="11.5" text-anchor="middle">50</text>
<text x="123.66" y="201.9" font-size="11.5" text-anchor="middle">100</text>
<text x="159.19" y="201.9" font-size="11.5" text-anchor="middle">150</text>
<text x="194.72" y="201.9" font-size="11.5" text-anchor="middle">200</text>
<text x="230.25" y="201.9" font-size="11.5" text-anchor="middle">250</text>
<text x="265.78" y="201.9" font-size="11.5" text-anchor="middle">300</text>
<text x="159.5" y="220.7" font-size="11.5" text-anchor="middle"><tspan>Specific capacity (mAh g</tspan><tspan dy="-4.49" dx="0.3" font-size="7.59">−1</tspan><tspan dy="4.49" dx="1.2">)</tspan></text>
<text transform="translate(9.2,105.85) rotate(-90)" font-size="11.5" text-anchor="middle">Voltage (V)</text>
<text x="157.2" y="15.3" font-size="11.5" text-anchor="middle"><tspan>S-LNF15, 1.5</tspan><tspan dx="0.9">–</tspan><tspan dx="0.9">4.6 V, 20 mA g</tspan><tspan dy="-4.49" dx="0.3" font-size="7.59">−1</tspan><tspan dy="4.49" dx="1.2">, RT</tspan></text>
<text x="-1.8" y="10.2" font-size="16.5" font-weight="bold">d</text>
<text x="37.7" y="176.3" font-size="11.5" text-anchor="start"><tspan>250 mAh g</tspan><tspan dy="-4.49" dx="0.3" font-size="7.59">−1</tspan><tspan dy="4.49" dx="1.2">, 790 Wh kg</tspan><tspan dy="-4.49" dx="0.3" font-size="7.59">−1</tspan></text>
<text x="217.3" y="36.7" font-size="11.5" text-anchor="middle">5</text>
<text x="227.1" y="36.7" font-size="11.5" text-anchor="middle">2</text>
<text x="267.2" y="36.7" font-size="11.5" text-anchor="middle">1</text>
<text x="213.6" y="177.1" font-size="11.5" text-anchor="middle">5</text>
<text x="229.9" y="177.1" font-size="11.5" text-anchor="middle">1</text>
<rect x="228.9" y="53.6" width="104.2" height="79.55" fill="#fff"/>
<path d="M228.9,121.47H333.1M228.9,109.83H333.1M228.9,98.2H333.1M228.9,86.56H333.1M228.9,74.93H333.1M228.9,63.3H333.1M252.34,53.6V133.15M273.19,53.6V133.15M294.02,53.6V133.15M314.87,53.6V133.15" stroke="#e9e9e9" stroke-width="0.8" fill="none"/>
<polyline points="231.5,61.74 236.72,83.85 241.93,85.01 247.13,87.34 252.34,88.5 257.56,92.77 262.76,92.38 267.98,95.1 273.19,97.03 278.39,97.81 283.61,98.59 288.81,99.36 294.02,100.14 299.24,101.3 304.44,101.69 309.65,102.46 314.87,103.24 320.07,103.24 325.29,103.63 330.5,103.63" stroke="#000" stroke-width="0.5" fill="none"/>
<polyline points="231.5,82.69 236.72,86.56 241.93,88.89 247.13,90.05 252.34,91.22 257.56,93.16 262.76,93.93 267.98,95.48 273.19,97.42 278.39,98.2 283.61,98.97 288.81,99.75 294.02,100.52 299.24,101.69 304.44,102.08 309.65,102.85 314.87,103.24 320.07,103.63 325.29,103.63 330.5,103.63" stroke="#000" stroke-width="0.75" fill="none"/>
<polygon points="231.5,58.79 228.85,63.56 234.16,63.56" fill="#fff" stroke="#000" stroke-width="0.9" stroke-linejoin="miter"/>
<polygon points="236.72,80.89 234.06,85.66 239.37,85.66" fill="#fff" stroke="#000" stroke-width="0.9" stroke-linejoin="miter"/>
<polygon points="241.93,82.06 239.28,86.83 244.58,86.83" fill="#fff" stroke="#000" stroke-width="0.9" stroke-linejoin="miter"/>
<polygon points="247.13,84.38 244.48,89.15 249.78,89.15" fill="#fff" stroke="#000" stroke-width="0.9" stroke-linejoin="miter"/>
<polygon points="252.34,85.55 249.69,90.32 255,90.32" fill="#fff" stroke="#000" stroke-width="0.9" stroke-linejoin="miter"/>
<polygon points="257.56,89.81 254.91,94.58 260.2,94.58" fill="#fff" stroke="#000" stroke-width="0.9" stroke-linejoin="miter"/>
<polygon points="262.76,89.42 260.12,94.19 265.41,94.19" fill="#fff" stroke="#000" stroke-width="0.9" stroke-linejoin="miter"/>
<polygon points="267.98,92.14 265.33,96.91 270.62,96.91" fill="#fff" stroke="#000" stroke-width="0.9" stroke-linejoin="miter"/>
<polygon points="273.19,94.08 270.54,98.85 275.83,98.85" fill="#fff" stroke="#000" stroke-width="0.9" stroke-linejoin="miter"/>
<polygon points="278.39,94.85 275.75,99.62 281.04,99.62" fill="#fff" stroke="#000" stroke-width="0.9" stroke-linejoin="miter"/>
<polygon points="283.61,95.63 280.96,100.4 286.25,100.4" fill="#fff" stroke="#000" stroke-width="0.9" stroke-linejoin="miter"/>
<polygon points="288.81,96.4 286.17,101.17 291.46,101.17" fill="#fff" stroke="#000" stroke-width="0.9" stroke-linejoin="miter"/>
<polygon points="294.02,97.18 291.38,101.95 296.67,101.95" fill="#fff" stroke="#000" stroke-width="0.9" stroke-linejoin="miter"/>
<polygon points="299.24,98.34 296.59,103.11 301.88,103.11" fill="#fff" stroke="#000" stroke-width="0.9" stroke-linejoin="miter"/>
<polygon points="304.44,98.73 301.8,103.5 307.09,103.5" fill="#fff" stroke="#000" stroke-width="0.9" stroke-linejoin="miter"/>
<polygon points="309.65,99.51 307,104.28 312.3,104.28" fill="#fff" stroke="#000" stroke-width="0.9" stroke-linejoin="miter"/>
<polygon points="314.87,100.28 312.22,105.05 317.51,105.05" fill="#fff" stroke="#000" stroke-width="0.9" stroke-linejoin="miter"/>
<polygon points="320.07,100.28 317.43,105.05 322.72,105.05" fill="#fff" stroke="#000" stroke-width="0.9" stroke-linejoin="miter"/>
<polygon points="325.29,100.67 322.64,105.44 327.94,105.44" fill="#fff" stroke="#000" stroke-width="0.9" stroke-linejoin="miter"/>
<polygon points="330.5,100.67 327.85,105.44 333.14,105.44" fill="#fff" stroke="#000" stroke-width="0.9" stroke-linejoin="miter"/>
<polygon points="231.5,79.73 228.85,84.5 234.16,84.5" fill="#000" stroke="#000" stroke-width="0.6" stroke-linejoin="miter"/>
<polygon points="236.72,83.61 234.06,88.38 239.37,88.38" fill="#000" stroke="#000" stroke-width="0.6" stroke-linejoin="miter"/>
<polygon points="241.93,85.93 239.28,90.7 244.58,90.7" fill="#000" stroke="#000" stroke-width="0.6" stroke-linejoin="miter"/>
<polygon points="247.13,87.1 244.48,91.87 249.78,91.87" fill="#000" stroke="#000" stroke-width="0.6" stroke-linejoin="miter"/>
<polygon points="252.34,88.26 249.69,93.03 255,93.03" fill="#000" stroke="#000" stroke-width="0.6" stroke-linejoin="miter"/>
<polygon points="257.56,90.2 254.91,94.97 260.2,94.97" fill="#000" stroke="#000" stroke-width="0.6" stroke-linejoin="miter"/>
<polygon points="262.76,90.97 260.12,95.74 265.41,95.74" fill="#000" stroke="#000" stroke-width="0.6" stroke-linejoin="miter"/>
<polygon points="267.98,92.53 265.33,97.3 270.62,97.3" fill="#000" stroke="#000" stroke-width="0.6" stroke-linejoin="miter"/>
<polygon points="273.19,94.47 270.54,99.23 275.83,99.23" fill="#000" stroke="#000" stroke-width="0.6" stroke-linejoin="miter"/>
<polygon points="278.39,95.24 275.75,100.01 281.04,100.01" fill="#000" stroke="#000" stroke-width="0.6" stroke-linejoin="miter"/>
<polygon points="283.61,96.02 280.96,100.79 286.25,100.79" fill="#000" stroke="#000" stroke-width="0.6" stroke-linejoin="miter"/>
<polygon points="288.81,96.79 286.17,101.56 291.46,101.56" fill="#000" stroke="#000" stroke-width="0.6" stroke-linejoin="miter"/>
<polygon points="294.02,97.57 291.38,102.34 296.67,102.34" fill="#000" stroke="#000" stroke-width="0.6" stroke-linejoin="miter"/>
<polygon points="299.24,98.73 296.59,103.5 301.88,103.5" fill="#000" stroke="#000" stroke-width="0.6" stroke-linejoin="miter"/>
<polygon points="304.44,99.12 301.8,103.89 307.09,103.89" fill="#000" stroke="#000" stroke-width="0.6" stroke-linejoin="miter"/>
<polygon points="309.65,99.89 307,104.66 312.3,104.66" fill="#000" stroke="#000" stroke-width="0.6" stroke-linejoin="miter"/>
<polygon points="314.87,100.28 312.22,105.05 317.51,105.05" fill="#000" stroke="#000" stroke-width="0.6" stroke-linejoin="miter"/>
<polygon points="320.07,100.67 317.43,105.44 322.72,105.44" fill="#000" stroke="#000" stroke-width="0.6" stroke-linejoin="miter"/>
<polygon points="325.29,100.67 322.64,105.44 327.94,105.44" fill="#000" stroke="#000" stroke-width="0.6" stroke-linejoin="miter"/>
<polygon points="330.5,100.67 327.85,105.44 333.14,105.44" fill="#000" stroke="#000" stroke-width="0.6" stroke-linejoin="miter"/>
<rect x="228.9" y="53.6" width="104.2" height="79.55" fill="none" stroke="#6b6b6b" stroke-width="1.1"/>
<path d="M227.1,133.1H228.9M227.7,127.28H228.9M227.1,121.47H228.9M227.7,115.65H228.9M227.1,109.83H228.9M227.7,104.02H228.9M227.1,98.2H228.9M227.7,92.38H228.9M227.1,86.56H228.9M227.7,80.75H228.9M227.1,74.93H228.9M227.7,69.11H228.9M227.1,63.3H228.9M227.7,57.48H228.9M231.5,133.15V134.65M241.93,133.15V134.65M252.34,133.15V134.65M262.76,133.15V134.65M273.19,133.15V134.65M283.61,133.15V134.65M294.02,133.15V134.65M304.44,133.15V134.65M314.87,133.15V134.65M325.29,133.15V134.65" stroke="#6b6b6b" stroke-width="0.9" fill="none"/>
<text x="224.2" y="135.9" font-size="8.4" text-anchor="end">120</text>
<text x="224.2" y="124.27" font-size="8.4" text-anchor="end">150</text>
<text x="224.2" y="112.63" font-size="8.4" text-anchor="end">180</text>
<text x="224.2" y="101" font-size="8.4" text-anchor="end">210</text>
<text x="224.2" y="89.36" font-size="8.4" text-anchor="end">240</text>
<text x="224.2" y="77.73" font-size="8.4" text-anchor="end">270</text>
<text x="224.2" y="66.1" font-size="8.4" text-anchor="end">300</text>
<text x="231.5" y="143.8" font-size="8.4" text-anchor="middle">1</text>
<text x="252.34" y="143.8" font-size="8.4" text-anchor="middle">5</text>
<text x="273.19" y="143.8" font-size="8.4" text-anchor="middle">9</text>
<text x="294.02" y="143.8" font-size="8.4" text-anchor="middle">13</text>
<text x="314.87" y="143.8" font-size="8.4" text-anchor="middle">17</text>
<rect x="255" y="147.5" width="55" height="14" fill="#fff"/>
<text x="281.8" y="157.4" font-size="8.4" text-anchor="middle">Cycle number</text>
<text x="0" y="0" font-size="8.2" text-anchor="middle" transform="translate(202.1,93.1) rotate(-90)"><tspan>Capacity (mAh g</tspan><tspan dy="-3.2" dx="0.3" font-size="5.41">−1</tspan><tspan dy="3.2" dx="1.2">)</tspan></text>
<path d="M267.1,64H280.3M267.1,76.4H280.3" stroke="#000" stroke-width="0.6"/>
<polygon points="273.7,59.58 270.1,66.06 277.3,66.06" fill="#fff" stroke="#000" stroke-width="0.9" stroke-linejoin="miter"/>
<polygon points="273.7,71.98 270.1,78.46 277.3,78.46" fill="#000" stroke="#000" stroke-width="0.6" stroke-linejoin="miter"/>
<text x="284.8" y="67.4" font-size="8.4">Charge</text>
<text x="284.8" y="79.8" font-size="8.4">Discharge</text></g>
</svg>
</body></html>
